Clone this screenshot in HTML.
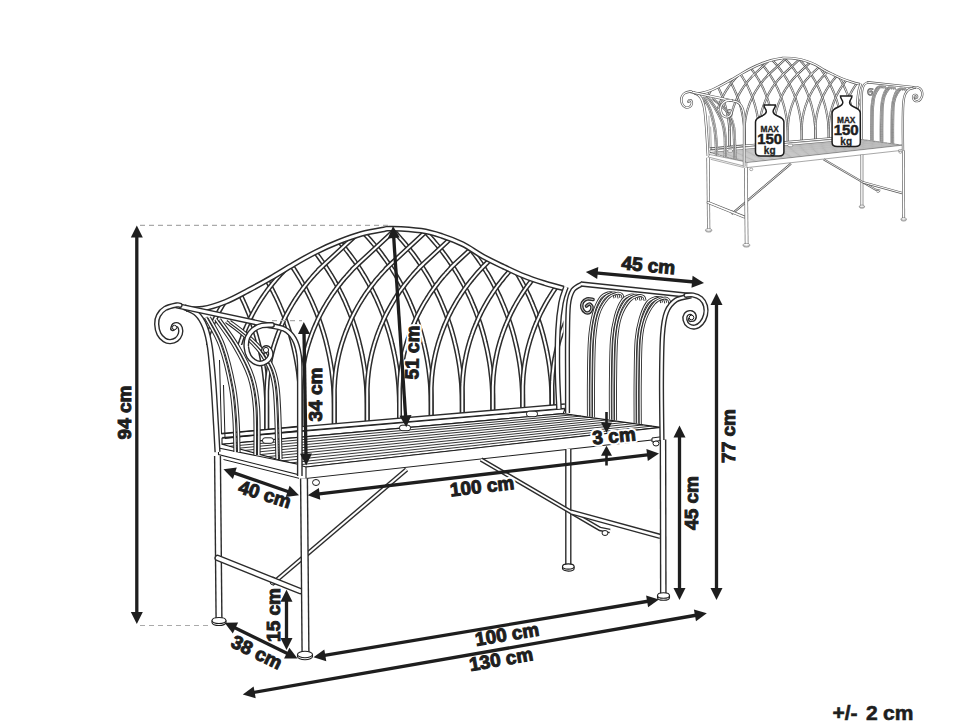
<!DOCTYPE html><html><head><meta charset="utf-8"><style>html,body{margin:0;padding:0;background:#fff;width:970px;height:728px;overflow:hidden}svg{display:block}</style></head><body><svg width="970" height="728" viewBox="0 0 970 728" style="font-family:'Liberation Sans',sans-serif;font-weight:700" fill="#1e1e1e">
<rect width="970" height="728" fill="#fff"/>
<g id="bench">
<clipPath id="latclip"><path d="M186 308.8 C188.8 308.8 196.1 309.8 202.7 308.7 C209.3 307.6 217.8 304.9 225.4 301.9 C233 298.9 240.4 294.6 248 290.6 C255.6 286.6 263.1 282.5 270.7 278.1 C278.3 273.8 285.8 268.9 293.4 264.5 C300.9 260.1 308.4 255.8 316 252 C323.6 248.2 331.1 244.8 338.7 241.8 C346.3 238.8 353.8 236 361.4 233.9 C368.9 231.8 378.8 230.2 384 229.3 C389.2 228.4 386.2 228.4 392.4 228.6 C398.6 228.8 412.9 229.5 421.2 230.7 C429.4 231.9 435 233.7 441.9 235.9 C448.8 238.1 455.6 240.7 462.5 244.1 C469.4 247.5 476.1 252.7 483 256.5 C489.9 260.3 496.8 263.5 503.7 266.8 C510.6 270.1 517.4 273.4 524.3 276.1 C531.2 278.9 538.5 281.2 545 283.3 C551.5 285.4 560.4 287.6 563.5 288.4 L563.5 406 L200 437.1 Z"/></clipPath>
<g clip-path="url(#latclip)">
<path d="M266.7 432.4 L266.7 408.9 L266.7 408.9 C266.7 408 266.7 405.3 266.6 403.6 C266.6 401.8 266.6 400 266.5 398.3 C266.4 396.5 266.3 394.8 266.2 393 C266.1 391.3 266 389.5 265.9 387.8 C265.7 386 265.6 384.3 265.4 382.5 C265.2 380.8 265 379 264.8 377.3 C264.6 375.6 264.4 373.8 264.2 372.1 C263.9 370.4 263.7 368.6 263.4 366.9 C263.1 365.2 262.8 363.5 262.5 361.8 C262.2 360.1 261.9 358.4 261.5 356.6 C261.2 354.9 260.8 353.2 260.4 351.6 C260 349.9 259.7 348.2 259.2 346.5 C258.8 344.8 258.4 343.1 258 341.5 C257.5 339.8 257 338.1 256.6 336.5 C256.1 334.8 255.6 333.2 255.1 331.5 C254.6 329.9 254 328.2 253.5 326.6 C252.9 325 252.4 323.3 251.8 321.7 C251.2 320.1 250.6 318.5 250 316.9 C249.4 315.3 248.8 313.7 248.1 312.1 C247.5 310.5 246.8 308.9 246.1 307.4 C245.5 305.8 244.8 304.2 244.1 302.7 C243.4 301.1 242.6 299.6 241.9 298 C241.2 296.5 240.4 294.9 239.6 293.4 C238.9 291.9 238.1 290.4 237.3 288.9 C236.5 287.4 235.7 285.9 234.8 284.4 C234 282.9 233.1 281.4 232.3 280 C231.4 278.5 230.5 277 229.6 275.6 C228.7 274.2 227.8 272.7 226.9 271.3 C226 269.9 225.1 268.5 224.1 267 C223.1 265.6 222.2 264.2 221.2 262.9 C220.2 261.5 219.2 260.1 218.2 258.8 C217.2 257.4 216.2 256 215.1 254.7 C214.1 253.4 213 252 212 250.7 C210.9 249.4 209.8 248.1 208.7 246.8 C207.6 245.5 206.5 244.2 205.4 243 C204.3 241.7 203.2 240.5 202 239.2 C200.9 238 199.7 236.7 198.5 235.5 C197.4 234.3 196.2 233.1 195 231.9 C193.8 230.7 192.6 229.5 191.3 228.4 C190.1 227.2 202.4 238.4 187.6 224.9 C172.9 211.4 116.9 160.4 102.8 147.5" stroke="#2c2c2c" stroke-width="5" fill="none" stroke-linecap="butt" />
<path d="M266.7 432.4 L266.7 408.9 L266.7 408.9 C266.7 408 266.7 405.3 266.6 403.6 C266.6 401.8 266.6 400 266.5 398.3 C266.4 396.5 266.3 394.8 266.2 393 C266.1 391.3 266 389.5 265.9 387.8 C265.7 386 265.6 384.3 265.4 382.5 C265.2 380.8 265 379 264.8 377.3 C264.6 375.6 264.4 373.8 264.2 372.1 C263.9 370.4 263.7 368.6 263.4 366.9 C263.1 365.2 262.8 363.5 262.5 361.8 C262.2 360.1 261.9 358.4 261.5 356.6 C261.2 354.9 260.8 353.2 260.4 351.6 C260 349.9 259.7 348.2 259.2 346.5 C258.8 344.8 258.4 343.1 258 341.5 C257.5 339.8 257 338.1 256.6 336.5 C256.1 334.8 255.6 333.2 255.1 331.5 C254.6 329.9 254 328.2 253.5 326.6 C252.9 325 252.4 323.3 251.8 321.7 C251.2 320.1 250.6 318.5 250 316.9 C249.4 315.3 248.8 313.7 248.1 312.1 C247.5 310.5 246.8 308.9 246.1 307.4 C245.5 305.8 244.8 304.2 244.1 302.7 C243.4 301.1 242.6 299.6 241.9 298 C241.2 296.5 240.4 294.9 239.6 293.4 C238.9 291.9 238.1 290.4 237.3 288.9 C236.5 287.4 235.7 285.9 234.8 284.4 C234 282.9 233.1 281.4 232.3 280 C231.4 278.5 230.5 277 229.6 275.6 C228.7 274.2 227.8 272.7 226.9 271.3 C226 269.9 225.1 268.5 224.1 267 C223.1 265.6 222.2 264.2 221.2 262.9 C220.2 261.5 219.2 260.1 218.2 258.8 C217.2 257.4 216.2 256 215.1 254.7 C214.1 253.4 213 252 212 250.7 C210.9 249.4 209.8 248.1 208.7 246.8 C207.6 245.5 206.5 244.2 205.4 243 C204.3 241.7 203.2 240.5 202 239.2 C200.9 238 199.7 236.7 198.5 235.5 C197.4 234.3 196.2 233.1 195 231.9 C193.8 230.7 192.6 229.5 191.3 228.4 C190.1 227.2 202.4 238.4 187.6 224.9 C172.9 211.4 116.9 160.4 102.8 147.5" stroke="#fff" stroke-width="2" fill="none" stroke-linecap="butt" />
<path d="M300.8 429.4 L300.8 408.2 L300.8 408.2 C300.8 407.3 300.8 404.7 300.7 402.9 C300.7 401.1 300.7 399.4 300.6 397.6 C300.5 395.8 300.4 394.1 300.3 392.3 C300.2 390.6 300.1 388.8 300 387.1 C299.8 385.3 299.7 383.6 299.5 381.8 C299.3 380.1 299.1 378.4 298.9 376.6 C298.7 374.9 298.5 373.1 298.3 371.4 C298 369.7 297.8 368 297.5 366.2 C297.2 364.5 296.9 362.8 296.6 361.1 C296.3 359.4 296 357.7 295.6 356 C295.3 354.3 294.9 352.6 294.5 350.9 C294.1 349.2 293.8 347.5 293.3 345.8 C292.9 344.1 292.5 342.5 292.1 340.8 C291.6 339.1 291.1 337.4 290.7 335.8 C290.2 334.1 289.7 332.5 289.2 330.8 C288.7 329.2 288.1 327.5 287.6 325.9 C287 324.3 286.5 322.7 285.9 321 C285.3 319.4 284.7 317.8 284.1 316.2 C283.5 314.6 282.9 313 282.2 311.4 C281.6 309.8 280.9 308.2 280.2 306.7 C279.6 305.1 278.9 303.5 278.2 302 C277.5 300.4 276.7 298.9 276 297.3 C275.3 295.8 274.5 294.3 273.7 292.7 C273 291.2 272.2 289.7 271.4 288.2 C270.6 286.7 269.8 285.2 268.9 283.7 C268.1 282.2 267.2 280.8 266.4 279.3 C265.5 277.8 264.6 276.4 263.7 274.9 C262.8 273.5 261.9 272 261 270.6 C260.1 269.2 259.2 267.8 258.2 266.4 C257.2 265 256.3 263.6 255.3 262.2 C254.3 260.8 253.3 259.4 252.3 258.1 C251.3 256.7 250.3 255.4 249.2 254 C248.2 252.7 247.1 251.4 246.1 250 C245 248.7 243.9 247.4 242.8 246.1 C241.7 244.8 240.6 243.6 239.5 242.3 C238.4 241 237.3 239.8 236.1 238.5 C235 237.3 233.8 236.1 232.6 234.8 C231.5 233.6 230.3 232.4 229.1 231.2 C227.9 230 226.7 228.8 225.4 227.7 C224.2 226.5 236.5 237.7 221.7 224.2 C207 210.8 151 159.7 136.9 146.8" stroke="#2c2c2c" stroke-width="5" fill="none" stroke-linecap="butt" />
<path d="M300.8 429.4 L300.8 408.2 L300.8 408.2 C300.8 407.3 300.8 404.7 300.7 402.9 C300.7 401.1 300.7 399.4 300.6 397.6 C300.5 395.8 300.4 394.1 300.3 392.3 C300.2 390.6 300.1 388.8 300 387.1 C299.8 385.3 299.7 383.6 299.5 381.8 C299.3 380.1 299.1 378.4 298.9 376.6 C298.7 374.9 298.5 373.1 298.3 371.4 C298 369.7 297.8 368 297.5 366.2 C297.2 364.5 296.9 362.8 296.6 361.1 C296.3 359.4 296 357.7 295.6 356 C295.3 354.3 294.9 352.6 294.5 350.9 C294.1 349.2 293.8 347.5 293.3 345.8 C292.9 344.1 292.5 342.5 292.1 340.8 C291.6 339.1 291.1 337.4 290.7 335.8 C290.2 334.1 289.7 332.5 289.2 330.8 C288.7 329.2 288.1 327.5 287.6 325.9 C287 324.3 286.5 322.7 285.9 321 C285.3 319.4 284.7 317.8 284.1 316.2 C283.5 314.6 282.9 313 282.2 311.4 C281.6 309.8 280.9 308.2 280.2 306.7 C279.6 305.1 278.9 303.5 278.2 302 C277.5 300.4 276.7 298.9 276 297.3 C275.3 295.8 274.5 294.3 273.7 292.7 C273 291.2 272.2 289.7 271.4 288.2 C270.6 286.7 269.8 285.2 268.9 283.7 C268.1 282.2 267.2 280.8 266.4 279.3 C265.5 277.8 264.6 276.4 263.7 274.9 C262.8 273.5 261.9 272 261 270.6 C260.1 269.2 259.2 267.8 258.2 266.4 C257.2 265 256.3 263.6 255.3 262.2 C254.3 260.8 253.3 259.4 252.3 258.1 C251.3 256.7 250.3 255.4 249.2 254 C248.2 252.7 247.1 251.4 246.1 250 C245 248.7 243.9 247.4 242.8 246.1 C241.7 244.8 240.6 243.6 239.5 242.3 C238.4 241 237.3 239.8 236.1 238.5 C235 237.3 233.8 236.1 232.6 234.8 C231.5 233.6 230.3 232.4 229.1 231.2 C227.9 230 226.7 228.8 225.4 227.7 C224.2 226.5 236.5 237.7 221.7 224.2 C207 210.8 151 159.7 136.9 146.8" stroke="#fff" stroke-width="2" fill="none" stroke-linecap="butt" />
<path d="M334.3 426.6 L334.3 407.5 L334.3 407.5 C334.3 406.6 334.3 404 334.2 402.2 C334.2 400.5 334.2 398.7 334.1 396.9 C334 395.2 333.9 393.4 333.8 391.7 C333.7 389.9 333.6 388.2 333.5 386.4 C333.3 384.7 333.2 382.9 333 381.2 C332.8 379.4 332.6 377.7 332.4 375.9 C332.2 374.2 332 372.5 331.8 370.7 C331.5 369 331.3 367.3 331 365.6 C330.7 363.8 330.4 362.1 330.1 360.4 C329.8 358.7 329.5 357 329.1 355.3 C328.8 353.6 328.4 351.9 328 350.2 C327.6 348.5 327.3 346.8 326.8 345.1 C326.4 343.5 326 341.8 325.6 340.1 C325.1 338.4 324.6 336.8 324.2 335.1 C323.7 333.5 323.2 331.8 322.7 330.2 C322.2 328.5 321.6 326.9 321.1 325.2 C320.5 323.6 320 322 319.4 320.4 C318.8 318.7 318.2 317.1 317.6 315.5 C317 313.9 316.4 312.3 315.7 310.7 C315.1 309.2 314.4 307.6 313.7 306 C313.1 304.4 312.4 302.9 311.7 301.3 C311 299.7 310.2 298.2 309.5 296.7 C308.8 295.1 308 293.6 307.2 292.1 C306.5 290.5 305.7 289 304.9 287.5 C304.1 286 303.3 284.5 302.4 283 C301.6 281.6 300.7 280.1 299.9 278.6 C299 277.2 298.1 275.7 297.2 274.2 C296.3 272.8 295.4 271.4 294.5 269.9 C293.6 268.5 292.7 267.1 291.7 265.7 C290.7 264.3 289.8 262.9 288.8 261.5 C287.8 260.1 286.8 258.8 285.8 257.4 C284.8 256 283.8 254.7 282.7 253.3 C281.7 252 280.6 250.7 279.6 249.4 C278.5 248.1 277.4 246.8 276.3 245.5 C275.2 244.2 274.1 242.9 273 241.6 C271.9 240.4 270.8 239.1 269.6 237.9 C268.5 236.6 267.3 235.4 266.1 234.2 C265 232.9 263.8 231.7 262.6 230.6 C261.4 229.4 260.2 228.2 258.9 227 C257.7 225.8 270 237 255.2 223.6 C240.5 210.1 184.5 159.1 170.4 146.2" stroke="#2c2c2c" stroke-width="5" fill="none" stroke-linecap="butt" />
<path d="M334.3 426.6 L334.3 407.5 L334.3 407.5 C334.3 406.6 334.3 404 334.2 402.2 C334.2 400.5 334.2 398.7 334.1 396.9 C334 395.2 333.9 393.4 333.8 391.7 C333.7 389.9 333.6 388.2 333.5 386.4 C333.3 384.7 333.2 382.9 333 381.2 C332.8 379.4 332.6 377.7 332.4 375.9 C332.2 374.2 332 372.5 331.8 370.7 C331.5 369 331.3 367.3 331 365.6 C330.7 363.8 330.4 362.1 330.1 360.4 C329.8 358.7 329.5 357 329.1 355.3 C328.8 353.6 328.4 351.9 328 350.2 C327.6 348.5 327.3 346.8 326.8 345.1 C326.4 343.5 326 341.8 325.6 340.1 C325.1 338.4 324.6 336.8 324.2 335.1 C323.7 333.5 323.2 331.8 322.7 330.2 C322.2 328.5 321.6 326.9 321.1 325.2 C320.5 323.6 320 322 319.4 320.4 C318.8 318.7 318.2 317.1 317.6 315.5 C317 313.9 316.4 312.3 315.7 310.7 C315.1 309.2 314.4 307.6 313.7 306 C313.1 304.4 312.4 302.9 311.7 301.3 C311 299.7 310.2 298.2 309.5 296.7 C308.8 295.1 308 293.6 307.2 292.1 C306.5 290.5 305.7 289 304.9 287.5 C304.1 286 303.3 284.5 302.4 283 C301.6 281.6 300.7 280.1 299.9 278.6 C299 277.2 298.1 275.7 297.2 274.2 C296.3 272.8 295.4 271.4 294.5 269.9 C293.6 268.5 292.7 267.1 291.7 265.7 C290.7 264.3 289.8 262.9 288.8 261.5 C287.8 260.1 286.8 258.8 285.8 257.4 C284.8 256 283.8 254.7 282.7 253.3 C281.7 252 280.6 250.7 279.6 249.4 C278.5 248.1 277.4 246.8 276.3 245.5 C275.2 244.2 274.1 242.9 273 241.6 C271.9 240.4 270.8 239.1 269.6 237.9 C268.5 236.6 267.3 235.4 266.1 234.2 C265 232.9 263.8 231.7 262.6 230.6 C261.4 229.4 260.2 228.2 258.9 227 C257.7 225.8 270 237 255.2 223.6 C240.5 210.1 184.5 159.1 170.4 146.2" stroke="#fff" stroke-width="2" fill="none" stroke-linecap="butt" />
<path d="M367.2 423.8 L367.2 406.9 L367.2 406.9 C367.2 406 367.2 403.3 367.1 401.6 C367.1 399.8 367.1 398 367 396.3 C366.9 394.5 366.8 392.8 366.7 391 C366.6 389.2 366.5 387.5 366.4 385.7 C366.2 384 366.1 382.2 365.9 380.5 C365.7 378.8 365.5 377 365.3 375.3 C365.1 373.5 364.9 371.8 364.7 370.1 C364.4 368.4 364.2 366.6 363.9 364.9 C363.6 363.2 363.3 361.5 363 359.8 C362.7 358 362.4 356.3 362 354.6 C361.7 352.9 361.3 351.2 360.9 349.5 C360.5 347.9 360.2 346.2 359.7 344.5 C359.3 342.8 358.9 341.1 358.5 339.5 C358 337.8 357.5 336.1 357.1 334.5 C356.6 332.8 356.1 331.1 355.6 329.5 C355.1 327.9 354.5 326.2 354 324.6 C353.4 323 352.9 321.3 352.3 319.7 C351.7 318.1 351.1 316.5 350.5 314.9 C349.9 313.3 349.3 311.7 348.6 310.1 C348 308.5 347.3 306.9 346.6 305.3 C346 303.8 345.3 302.2 344.6 300.6 C343.9 299.1 343.1 297.5 342.4 296 C341.7 294.5 340.9 292.9 340.1 291.4 C339.4 289.9 338.6 288.4 337.8 286.9 C337 285.4 336.2 283.9 335.3 282.4 C334.5 280.9 333.6 279.4 332.8 278 C331.9 276.5 331 275 330.1 273.6 C329.2 272.1 328.3 270.7 327.4 269.3 C326.5 267.9 325.6 266.4 324.6 265 C323.6 263.6 322.7 262.2 321.7 260.9 C320.7 259.5 319.7 258.1 318.7 256.7 C317.7 255.4 316.7 254 315.6 252.7 C314.6 251.4 313.5 250 312.5 248.7 C311.4 247.4 310.3 246.1 309.2 244.8 C308.1 243.5 307 242.2 305.9 241 C304.8 239.7 303.7 238.4 302.5 237.2 C301.4 236 300.2 234.7 299 233.5 C297.9 232.3 296.7 231.1 295.5 229.9 C294.3 228.7 293.1 227.5 291.8 226.4 C290.6 225.2 302.9 236.4 288.1 222.9 C273.4 209.4 217.4 158.4 203.3 145.5" stroke="#2c2c2c" stroke-width="5" fill="none" stroke-linecap="butt" />
<path d="M367.2 423.8 L367.2 406.9 L367.2 406.9 C367.2 406 367.2 403.3 367.1 401.6 C367.1 399.8 367.1 398 367 396.3 C366.9 394.5 366.8 392.8 366.7 391 C366.6 389.2 366.5 387.5 366.4 385.7 C366.2 384 366.1 382.2 365.9 380.5 C365.7 378.8 365.5 377 365.3 375.3 C365.1 373.5 364.9 371.8 364.7 370.1 C364.4 368.4 364.2 366.6 363.9 364.9 C363.6 363.2 363.3 361.5 363 359.8 C362.7 358 362.4 356.3 362 354.6 C361.7 352.9 361.3 351.2 360.9 349.5 C360.5 347.9 360.2 346.2 359.7 344.5 C359.3 342.8 358.9 341.1 358.5 339.5 C358 337.8 357.5 336.1 357.1 334.5 C356.6 332.8 356.1 331.1 355.6 329.5 C355.1 327.9 354.5 326.2 354 324.6 C353.4 323 352.9 321.3 352.3 319.7 C351.7 318.1 351.1 316.5 350.5 314.9 C349.9 313.3 349.3 311.7 348.6 310.1 C348 308.5 347.3 306.9 346.6 305.3 C346 303.8 345.3 302.2 344.6 300.6 C343.9 299.1 343.1 297.5 342.4 296 C341.7 294.5 340.9 292.9 340.1 291.4 C339.4 289.9 338.6 288.4 337.8 286.9 C337 285.4 336.2 283.9 335.3 282.4 C334.5 280.9 333.6 279.4 332.8 278 C331.9 276.5 331 275 330.1 273.6 C329.2 272.1 328.3 270.7 327.4 269.3 C326.5 267.9 325.6 266.4 324.6 265 C323.6 263.6 322.7 262.2 321.7 260.9 C320.7 259.5 319.7 258.1 318.7 256.7 C317.7 255.4 316.7 254 315.6 252.7 C314.6 251.4 313.5 250 312.5 248.7 C311.4 247.4 310.3 246.1 309.2 244.8 C308.1 243.5 307 242.2 305.9 241 C304.8 239.7 303.7 238.4 302.5 237.2 C301.4 236 300.2 234.7 299 233.5 C297.9 232.3 296.7 231.1 295.5 229.9 C294.3 228.7 293.1 227.5 291.8 226.4 C290.6 225.2 302.9 236.4 288.1 222.9 C273.4 209.4 217.4 158.4 203.3 145.5" stroke="#fff" stroke-width="2" fill="none" stroke-linecap="butt" />
<path d="M399.5 421 L399.5 406.2 L399.5 406.2 C399.5 405.3 399.5 402.7 399.4 400.9 C399.4 399.1 399.4 397.4 399.3 395.6 C399.2 393.9 399.1 392.1 399 390.4 C398.9 388.6 398.8 386.8 398.7 385.1 C398.5 383.3 398.4 381.6 398.2 379.9 C398 378.1 397.8 376.4 397.6 374.6 C397.4 372.9 397.2 371.2 397 369.4 C396.7 367.7 396.5 366 396.2 364.3 C395.9 362.5 395.6 360.8 395.3 359.1 C395 357.4 394.7 355.7 394.3 354 C394 352.3 393.6 350.6 393.2 348.9 C392.8 347.2 392.5 345.5 392 343.8 C391.6 342.2 391.2 340.5 390.8 338.8 C390.3 337.1 389.8 335.5 389.4 333.8 C388.9 332.2 388.4 330.5 387.9 328.9 C387.4 327.2 386.8 325.6 386.3 323.9 C385.7 322.3 385.2 320.7 384.6 319.1 C384 317.4 383.4 315.8 382.8 314.2 C382.2 312.6 381.6 311 380.9 309.4 C380.3 307.8 379.6 306.3 378.9 304.7 C378.3 303.1 377.6 301.6 376.9 300 C376.2 298.4 375.4 296.9 374.7 295.4 C374 293.8 373.2 292.3 372.4 290.8 C371.7 289.2 370.9 287.7 370.1 286.2 C369.3 284.7 368.5 283.2 367.6 281.7 C366.8 280.3 365.9 278.8 365.1 277.3 C364.2 275.8 363.3 274.4 362.4 272.9 C361.5 271.5 360.6 270.1 359.7 268.6 C358.8 267.2 357.9 265.8 356.9 264.4 C355.9 263 355 261.6 354 260.2 C353 258.8 352 257.5 351 256.1 C350 254.7 349 253.4 347.9 252 C346.9 250.7 345.8 249.4 344.8 248.1 C343.7 246.8 342.6 245.4 341.5 244.2 C340.4 242.9 339.3 241.6 338.2 240.3 C337.1 239 336 237.8 334.8 236.6 C333.7 235.3 332.5 234.1 331.3 232.9 C330.2 231.6 329 230.4 327.8 229.2 C326.6 228.1 325.4 226.9 324.1 225.7 C322.9 224.5 335.2 235.7 320.4 222.3 C305.7 208.8 249.7 157.8 235.6 144.9" stroke="#2c2c2c" stroke-width="5" fill="none" stroke-linecap="butt" />
<path d="M399.5 421 L399.5 406.2 L399.5 406.2 C399.5 405.3 399.5 402.7 399.4 400.9 C399.4 399.1 399.4 397.4 399.3 395.6 C399.2 393.9 399.1 392.1 399 390.4 C398.9 388.6 398.8 386.8 398.7 385.1 C398.5 383.3 398.4 381.6 398.2 379.9 C398 378.1 397.8 376.4 397.6 374.6 C397.4 372.9 397.2 371.2 397 369.4 C396.7 367.7 396.5 366 396.2 364.3 C395.9 362.5 395.6 360.8 395.3 359.1 C395 357.4 394.7 355.7 394.3 354 C394 352.3 393.6 350.6 393.2 348.9 C392.8 347.2 392.5 345.5 392 343.8 C391.6 342.2 391.2 340.5 390.8 338.8 C390.3 337.1 389.8 335.5 389.4 333.8 C388.9 332.2 388.4 330.5 387.9 328.9 C387.4 327.2 386.8 325.6 386.3 323.9 C385.7 322.3 385.2 320.7 384.6 319.1 C384 317.4 383.4 315.8 382.8 314.2 C382.2 312.6 381.6 311 380.9 309.4 C380.3 307.8 379.6 306.3 378.9 304.7 C378.3 303.1 377.6 301.6 376.9 300 C376.2 298.4 375.4 296.9 374.7 295.4 C374 293.8 373.2 292.3 372.4 290.8 C371.7 289.2 370.9 287.7 370.1 286.2 C369.3 284.7 368.5 283.2 367.6 281.7 C366.8 280.3 365.9 278.8 365.1 277.3 C364.2 275.8 363.3 274.4 362.4 272.9 C361.5 271.5 360.6 270.1 359.7 268.6 C358.8 267.2 357.9 265.8 356.9 264.4 C355.9 263 355 261.6 354 260.2 C353 258.8 352 257.5 351 256.1 C350 254.7 349 253.4 347.9 252 C346.9 250.7 345.8 249.4 344.8 248.1 C343.7 246.8 342.6 245.4 341.5 244.2 C340.4 242.9 339.3 241.6 338.2 240.3 C337.1 239 336 237.8 334.8 236.6 C333.7 235.3 332.5 234.1 331.3 232.9 C330.2 231.6 329 230.4 327.8 229.2 C326.6 228.1 325.4 226.9 324.1 225.7 C322.9 224.5 335.2 235.7 320.4 222.3 C305.7 208.8 249.7 157.8 235.6 144.9" stroke="#fff" stroke-width="2" fill="none" stroke-linecap="butt" />
<path d="M431.2 418.3 L431.2 405.6 L431.2 405.6 C431.2 404.7 431.2 402 431.1 400.3 C431.1 398.5 431.1 396.8 431 395 C430.9 393.2 430.8 391.5 430.7 389.7 C430.6 388 430.5 386.2 430.4 384.5 C430.2 382.7 430.1 381 429.9 379.2 C429.7 377.5 429.5 375.7 429.3 374 C429.1 372.3 428.9 370.5 428.7 368.8 C428.4 367.1 428.2 365.4 427.9 363.6 C427.6 361.9 427.3 360.2 427 358.5 C426.7 356.8 426.4 355.1 426 353.4 C425.7 351.7 425.3 350 424.9 348.3 C424.5 346.6 424.2 344.9 423.7 343.2 C423.3 341.5 422.9 339.8 422.5 338.2 C422 336.5 421.5 334.8 421.1 333.2 C420.6 331.5 420.1 329.9 419.6 328.2 C419.1 326.6 418.5 324.9 418 323.3 C417.4 321.7 416.9 320 416.3 318.4 C415.7 316.8 415.1 315.2 414.5 313.6 C413.9 312 413.3 310.4 412.6 308.8 C412 307.2 411.3 305.6 410.6 304.1 C410 302.5 409.3 300.9 408.6 299.4 C407.9 297.8 407.1 296.3 406.4 294.7 C405.7 293.2 404.9 291.6 404.1 290.1 C403.4 288.6 402.6 287.1 401.8 285.6 C401 284.1 400.2 282.6 399.3 281.1 C398.5 279.6 397.6 278.1 396.8 276.7 C395.9 275.2 395 273.8 394.1 272.3 C393.2 270.9 392.3 269.4 391.4 268 C390.5 266.6 389.6 265.2 388.6 263.8 C387.6 262.4 386.7 261 385.7 259.6 C384.7 258.2 383.7 256.8 382.7 255.5 C381.7 254.1 380.7 252.7 379.6 251.4 C378.6 250.1 377.5 248.7 376.5 247.4 C375.4 246.1 374.3 244.8 373.2 243.5 C372.1 242.2 371 241 369.9 239.7 C368.8 238.4 367.7 237.2 366.5 235.9 C365.4 234.7 364.2 233.4 363 232.2 C361.9 231 360.7 229.8 359.5 228.6 C358.3 227.4 357.1 226.2 355.8 225.1 C354.6 223.9 366.9 235.1 352.1 221.6 C337.4 208.1 281.4 157.1 267.3 144.2" stroke="#2c2c2c" stroke-width="5" fill="none" stroke-linecap="butt" />
<path d="M431.2 418.3 L431.2 405.6 L431.2 405.6 C431.2 404.7 431.2 402 431.1 400.3 C431.1 398.5 431.1 396.8 431 395 C430.9 393.2 430.8 391.5 430.7 389.7 C430.6 388 430.5 386.2 430.4 384.5 C430.2 382.7 430.1 381 429.9 379.2 C429.7 377.5 429.5 375.7 429.3 374 C429.1 372.3 428.9 370.5 428.7 368.8 C428.4 367.1 428.2 365.4 427.9 363.6 C427.6 361.9 427.3 360.2 427 358.5 C426.7 356.8 426.4 355.1 426 353.4 C425.7 351.7 425.3 350 424.9 348.3 C424.5 346.6 424.2 344.9 423.7 343.2 C423.3 341.5 422.9 339.8 422.5 338.2 C422 336.5 421.5 334.8 421.1 333.2 C420.6 331.5 420.1 329.9 419.6 328.2 C419.1 326.6 418.5 324.9 418 323.3 C417.4 321.7 416.9 320 416.3 318.4 C415.7 316.8 415.1 315.2 414.5 313.6 C413.9 312 413.3 310.4 412.6 308.8 C412 307.2 411.3 305.6 410.6 304.1 C410 302.5 409.3 300.9 408.6 299.4 C407.9 297.8 407.1 296.3 406.4 294.7 C405.7 293.2 404.9 291.6 404.1 290.1 C403.4 288.6 402.6 287.1 401.8 285.6 C401 284.1 400.2 282.6 399.3 281.1 C398.5 279.6 397.6 278.1 396.8 276.7 C395.9 275.2 395 273.8 394.1 272.3 C393.2 270.9 392.3 269.4 391.4 268 C390.5 266.6 389.6 265.2 388.6 263.8 C387.6 262.4 386.7 261 385.7 259.6 C384.7 258.2 383.7 256.8 382.7 255.5 C381.7 254.1 380.7 252.7 379.6 251.4 C378.6 250.1 377.5 248.7 376.5 247.4 C375.4 246.1 374.3 244.8 373.2 243.5 C372.1 242.2 371 241 369.9 239.7 C368.8 238.4 367.7 237.2 366.5 235.9 C365.4 234.7 364.2 233.4 363 232.2 C361.9 231 360.7 229.8 359.5 228.6 C358.3 227.4 357.1 226.2 355.8 225.1 C354.6 223.9 366.9 235.1 352.1 221.6 C337.4 208.1 281.4 157.1 267.3 144.2" stroke="#fff" stroke-width="2" fill="none" stroke-linecap="butt" />
<path d="M462.3 415.6 L462.3 405 L462.3 405 C462.3 404.1 462.3 401.4 462.2 399.7 C462.2 397.9 462.2 396.1 462.1 394.4 C462 392.6 461.9 390.9 461.8 389.1 C461.7 387.3 461.6 385.6 461.5 383.8 C461.3 382.1 461.2 380.3 461 378.6 C460.8 376.9 460.6 375.1 460.4 373.4 C460.2 371.6 460 369.9 459.8 368.2 C459.5 366.5 459.3 364.7 459 363 C458.7 361.3 458.4 359.6 458.1 357.9 C457.8 356.1 457.5 354.4 457.1 352.7 C456.8 351 456.4 349.3 456 347.6 C455.6 345.9 455.3 344.3 454.8 342.6 C454.4 340.9 454 339.2 453.6 337.6 C453.1 335.9 452.6 334.2 452.2 332.6 C451.7 330.9 451.2 329.2 450.7 327.6 C450.2 326 449.6 324.3 449.1 322.7 C448.5 321 448 319.4 447.4 317.8 C446.8 316.2 446.2 314.6 445.6 313 C445 311.4 444.4 309.8 443.7 308.2 C443.1 306.6 442.4 305 441.7 303.4 C441.1 301.9 440.4 300.3 439.7 298.7 C439 297.2 438.2 295.6 437.5 294.1 C436.8 292.6 436 291 435.2 289.5 C434.5 288 433.7 286.5 432.9 285 C432.1 283.5 431.3 282 430.4 280.5 C429.6 279 428.7 277.5 427.9 276.1 C427 274.6 426.1 273.1 425.2 271.7 C424.3 270.2 423.4 268.8 422.5 267.4 C421.6 266 420.7 264.5 419.7 263.1 C418.7 261.7 417.8 260.3 416.8 259 C415.8 257.6 414.8 256.2 413.8 254.8 C412.8 253.5 411.8 252.1 410.7 250.8 C409.7 249.5 408.6 248.1 407.6 246.8 C406.5 245.5 405.4 244.2 404.3 242.9 C403.2 241.6 402.1 240.3 401 239.1 C399.9 237.8 398.8 236.5 397.6 235.3 C396.5 234.1 395.3 232.8 394.1 231.6 C393 230.4 391.8 229.2 390.6 228 C389.4 226.8 388.2 225.6 386.9 224.5 C385.7 223.3 398 234.5 383.2 221 C368.5 207.5 312.5 156.5 298.4 143.6" stroke="#2c2c2c" stroke-width="5" fill="none" stroke-linecap="butt" />
<path d="M462.3 415.6 L462.3 405 L462.3 405 C462.3 404.1 462.3 401.4 462.2 399.7 C462.2 397.9 462.2 396.1 462.1 394.4 C462 392.6 461.9 390.9 461.8 389.1 C461.7 387.3 461.6 385.6 461.5 383.8 C461.3 382.1 461.2 380.3 461 378.6 C460.8 376.9 460.6 375.1 460.4 373.4 C460.2 371.6 460 369.9 459.8 368.2 C459.5 366.5 459.3 364.7 459 363 C458.7 361.3 458.4 359.6 458.1 357.9 C457.8 356.1 457.5 354.4 457.1 352.7 C456.8 351 456.4 349.3 456 347.6 C455.6 345.9 455.3 344.3 454.8 342.6 C454.4 340.9 454 339.2 453.6 337.6 C453.1 335.9 452.6 334.2 452.2 332.6 C451.7 330.9 451.2 329.2 450.7 327.6 C450.2 326 449.6 324.3 449.1 322.7 C448.5 321 448 319.4 447.4 317.8 C446.8 316.2 446.2 314.6 445.6 313 C445 311.4 444.4 309.8 443.7 308.2 C443.1 306.6 442.4 305 441.7 303.4 C441.1 301.9 440.4 300.3 439.7 298.7 C439 297.2 438.2 295.6 437.5 294.1 C436.8 292.6 436 291 435.2 289.5 C434.5 288 433.7 286.5 432.9 285 C432.1 283.5 431.3 282 430.4 280.5 C429.6 279 428.7 277.5 427.9 276.1 C427 274.6 426.1 273.1 425.2 271.7 C424.3 270.2 423.4 268.8 422.5 267.4 C421.6 266 420.7 264.5 419.7 263.1 C418.7 261.7 417.8 260.3 416.8 259 C415.8 257.6 414.8 256.2 413.8 254.8 C412.8 253.5 411.8 252.1 410.7 250.8 C409.7 249.5 408.6 248.1 407.6 246.8 C406.5 245.5 405.4 244.2 404.3 242.9 C403.2 241.6 402.1 240.3 401 239.1 C399.9 237.8 398.8 236.5 397.6 235.3 C396.5 234.1 395.3 232.8 394.1 231.6 C393 230.4 391.8 229.2 390.6 228 C389.4 226.8 388.2 225.6 386.9 224.5 C385.7 223.3 398 234.5 383.2 221 C368.5 207.5 312.5 156.5 298.4 143.6" stroke="#fff" stroke-width="2" fill="none" stroke-linecap="butt" />
<path d="M492.8 413 L492.8 404.3 L492.8 404.3 C492.8 403.5 492.8 400.8 492.7 399 C492.7 397.3 492.7 395.5 492.6 393.8 C492.5 392 492.4 390.2 492.3 388.5 C492.2 386.7 492.1 385 492 383.2 C491.8 381.5 491.7 379.7 491.5 378 C491.3 376.3 491.1 374.5 490.9 372.8 C490.7 371 490.5 369.3 490.3 367.6 C490 365.8 489.8 364.1 489.5 362.4 C489.2 360.7 488.9 359 488.6 357.2 C488.3 355.5 488 353.8 487.6 352.1 C487.3 350.4 486.9 348.7 486.5 347 C486.1 345.3 485.8 343.7 485.3 342 C484.9 340.3 484.5 338.6 484.1 336.9 C483.6 335.3 483.1 333.6 482.7 331.9 C482.2 330.3 481.7 328.6 481.2 327 C480.7 325.3 480.1 323.7 479.6 322.1 C479 320.4 478.5 318.8 477.9 317.2 C477.3 315.6 476.7 314 476.1 312.4 C475.5 310.8 474.9 309.2 474.2 307.6 C473.6 306 472.9 304.4 472.2 302.8 C471.6 301.3 470.9 299.7 470.2 298.1 C469.5 296.6 468.7 295 468 293.5 C467.3 291.9 466.5 290.4 465.7 288.9 C465 287.4 464.2 285.9 463.4 284.4 C462.6 282.9 461.8 281.4 460.9 279.9 C460.1 278.4 459.2 276.9 458.4 275.4 C457.5 274 456.6 272.5 455.7 271.1 C454.8 269.6 453.9 268.2 453 266.8 C452.1 265.3 451.2 263.9 450.2 262.5 C449.2 261.1 448.3 259.7 447.3 258.3 C446.3 257 445.3 255.6 444.3 254.2 C443.3 252.9 442.3 251.5 441.2 250.2 C440.2 248.8 439.1 247.5 438.1 246.2 C437 244.9 435.9 243.6 434.8 242.3 C433.7 241 432.6 239.7 431.5 238.5 C430.4 237.2 429.3 235.9 428.1 234.7 C427 233.4 425.8 232.2 424.6 231 C423.5 229.8 422.3 228.6 421.1 227.4 C419.9 226.2 418.7 225 417.4 223.8 C416.2 222.7 428.5 233.9 413.7 220.4 C399 206.9 343 155.9 328.9 143" stroke="#2c2c2c" stroke-width="5" fill="none" stroke-linecap="butt" />
<path d="M492.8 413 L492.8 404.3 L492.8 404.3 C492.8 403.5 492.8 400.8 492.7 399 C492.7 397.3 492.7 395.5 492.6 393.8 C492.5 392 492.4 390.2 492.3 388.5 C492.2 386.7 492.1 385 492 383.2 C491.8 381.5 491.7 379.7 491.5 378 C491.3 376.3 491.1 374.5 490.9 372.8 C490.7 371 490.5 369.3 490.3 367.6 C490 365.8 489.8 364.1 489.5 362.4 C489.2 360.7 488.9 359 488.6 357.2 C488.3 355.5 488 353.8 487.6 352.1 C487.3 350.4 486.9 348.7 486.5 347 C486.1 345.3 485.8 343.7 485.3 342 C484.9 340.3 484.5 338.6 484.1 336.9 C483.6 335.3 483.1 333.6 482.7 331.9 C482.2 330.3 481.7 328.6 481.2 327 C480.7 325.3 480.1 323.7 479.6 322.1 C479 320.4 478.5 318.8 477.9 317.2 C477.3 315.6 476.7 314 476.1 312.4 C475.5 310.8 474.9 309.2 474.2 307.6 C473.6 306 472.9 304.4 472.2 302.8 C471.6 301.3 470.9 299.7 470.2 298.1 C469.5 296.6 468.7 295 468 293.5 C467.3 291.9 466.5 290.4 465.7 288.9 C465 287.4 464.2 285.9 463.4 284.4 C462.6 282.9 461.8 281.4 460.9 279.9 C460.1 278.4 459.2 276.9 458.4 275.4 C457.5 274 456.6 272.5 455.7 271.1 C454.8 269.6 453.9 268.2 453 266.8 C452.1 265.3 451.2 263.9 450.2 262.5 C449.2 261.1 448.3 259.7 447.3 258.3 C446.3 257 445.3 255.6 444.3 254.2 C443.3 252.9 442.3 251.5 441.2 250.2 C440.2 248.8 439.1 247.5 438.1 246.2 C437 244.9 435.9 243.6 434.8 242.3 C433.7 241 432.6 239.7 431.5 238.5 C430.4 237.2 429.3 235.9 428.1 234.7 C427 233.4 425.8 232.2 424.6 231 C423.5 229.8 422.3 228.6 421.1 227.4 C419.9 226.2 418.7 225 417.4 223.8 C416.2 222.7 428.5 233.9 413.7 220.4 C399 206.9 343 155.9 328.9 143" stroke="#fff" stroke-width="2" fill="none" stroke-linecap="butt" />
<path d="M522.7 410.5 L522.7 403.7 L522.7 403.7 C522.7 402.9 522.7 400.2 522.6 398.4 C522.6 396.7 522.6 394.9 522.5 393.2 C522.4 391.4 522.3 389.6 522.2 387.9 C522.1 386.1 522 384.4 521.9 382.6 C521.7 380.9 521.6 379.1 521.4 377.4 C521.2 375.7 521 373.9 520.8 372.2 C520.6 370.4 520.4 368.7 520.2 367 C519.9 365.2 519.7 363.5 519.4 361.8 C519.1 360.1 518.8 358.4 518.5 356.7 C518.2 354.9 517.9 353.2 517.5 351.5 C517.2 349.8 516.8 348.1 516.4 346.4 C516 344.7 515.7 343.1 515.2 341.4 C514.8 339.7 514.4 338 514 336.3 C513.5 334.7 513 333 512.6 331.3 C512.1 329.7 511.6 328 511.1 326.4 C510.6 324.7 510 323.1 509.5 321.5 C508.9 319.8 508.4 318.2 507.8 316.6 C507.2 315 506.6 313.4 506 311.8 C505.4 310.2 504.8 308.6 504.1 307 C503.5 305.4 502.8 303.8 502.1 302.2 C501.5 300.7 500.8 299.1 500.1 297.5 C499.4 296 498.6 294.4 497.9 292.9 C497.2 291.4 496.4 289.8 495.6 288.3 C494.9 286.8 494.1 285.3 493.3 283.8 C492.5 282.3 491.7 280.8 490.8 279.3 C490 277.8 489.1 276.3 488.3 274.8 C487.4 273.4 486.5 271.9 485.6 270.5 C484.7 269 483.8 267.6 482.9 266.2 C482 264.7 481.1 263.3 480.1 261.9 C479.1 260.5 478.2 259.1 477.2 257.7 C476.2 256.4 475.2 255 474.2 253.6 C473.2 252.3 472.2 250.9 471.1 249.6 C470.1 248.2 469 246.9 468 245.6 C466.9 244.3 465.8 243 464.7 241.7 C463.6 240.4 462.5 239.1 461.4 237.9 C460.3 236.6 459.2 235.3 458 234.1 C456.9 232.8 455.7 231.6 454.5 230.4 C453.4 229.2 452.2 228 451 226.8 C449.8 225.6 448.6 224.4 447.3 223.2 C446.1 222.1 458.4 233.3 443.6 219.8 C428.9 206.3 372.9 155.3 358.8 142.4" stroke="#2c2c2c" stroke-width="5" fill="none" stroke-linecap="butt" />
<path d="M522.7 410.5 L522.7 403.7 L522.7 403.7 C522.7 402.9 522.7 400.2 522.6 398.4 C522.6 396.7 522.6 394.9 522.5 393.2 C522.4 391.4 522.3 389.6 522.2 387.9 C522.1 386.1 522 384.4 521.9 382.6 C521.7 380.9 521.6 379.1 521.4 377.4 C521.2 375.7 521 373.9 520.8 372.2 C520.6 370.4 520.4 368.7 520.2 367 C519.9 365.2 519.7 363.5 519.4 361.8 C519.1 360.1 518.8 358.4 518.5 356.7 C518.2 354.9 517.9 353.2 517.5 351.5 C517.2 349.8 516.8 348.1 516.4 346.4 C516 344.7 515.7 343.1 515.2 341.4 C514.8 339.7 514.4 338 514 336.3 C513.5 334.7 513 333 512.6 331.3 C512.1 329.7 511.6 328 511.1 326.4 C510.6 324.7 510 323.1 509.5 321.5 C508.9 319.8 508.4 318.2 507.8 316.6 C507.2 315 506.6 313.4 506 311.8 C505.4 310.2 504.8 308.6 504.1 307 C503.5 305.4 502.8 303.8 502.1 302.2 C501.5 300.7 500.8 299.1 500.1 297.5 C499.4 296 498.6 294.4 497.9 292.9 C497.2 291.4 496.4 289.8 495.6 288.3 C494.9 286.8 494.1 285.3 493.3 283.8 C492.5 282.3 491.7 280.8 490.8 279.3 C490 277.8 489.1 276.3 488.3 274.8 C487.4 273.4 486.5 271.9 485.6 270.5 C484.7 269 483.8 267.6 482.9 266.2 C482 264.7 481.1 263.3 480.1 261.9 C479.1 260.5 478.2 259.1 477.2 257.7 C476.2 256.4 475.2 255 474.2 253.6 C473.2 252.3 472.2 250.9 471.1 249.6 C470.1 248.2 469 246.9 468 245.6 C466.9 244.3 465.8 243 464.7 241.7 C463.6 240.4 462.5 239.1 461.4 237.9 C460.3 236.6 459.2 235.3 458 234.1 C456.9 232.8 455.7 231.6 454.5 230.4 C453.4 229.2 452.2 228 451 226.8 C449.8 225.6 448.6 224.4 447.3 223.2 C446.1 222.1 458.4 233.3 443.6 219.8 C428.9 206.3 372.9 155.3 358.8 142.4" stroke="#fff" stroke-width="2" fill="none" stroke-linecap="butt" />
<path d="M552 407.9 L552 403.2 L552 403.2 C552 402.3 552 399.6 551.9 397.9 C551.9 396.1 551.9 394.3 551.8 392.6 C551.7 390.8 551.6 389.1 551.5 387.3 C551.4 385.6 551.3 383.8 551.2 382 C551 380.3 550.9 378.6 550.7 376.8 C550.5 375.1 550.3 373.3 550.1 371.6 C549.9 369.9 549.7 368.1 549.5 366.4 C549.2 364.7 549 362.9 548.7 361.2 C548.4 359.5 548.1 357.8 547.8 356.1 C547.5 354.4 547.2 352.6 546.8 350.9 C546.5 349.2 546.1 347.5 545.7 345.8 C545.3 344.2 545 342.5 544.5 340.8 C544.1 339.1 543.7 337.4 543.3 335.8 C542.8 334.1 542.3 332.4 541.9 330.8 C541.4 329.1 540.9 327.5 540.4 325.8 C539.9 324.2 539.3 322.5 538.8 320.9 C538.2 319.3 537.7 317.6 537.1 316 C536.5 314.4 535.9 312.8 535.3 311.2 C534.7 309.6 534.1 308 533.4 306.4 C532.8 304.8 532.1 303.2 531.4 301.6 C530.8 300.1 530.1 298.5 529.4 296.9 C528.7 295.4 527.9 293.8 527.2 292.3 C526.5 290.8 525.7 289.2 524.9 287.7 C524.2 286.2 523.4 284.7 522.6 283.2 C521.8 281.7 521 280.2 520.1 278.7 C519.3 277.2 518.4 275.7 517.6 274.3 C516.7 272.8 515.8 271.3 514.9 269.9 C514 268.4 513.1 267 512.2 265.6 C511.3 264.2 510.4 262.7 509.4 261.3 C508.4 259.9 507.5 258.5 506.5 257.2 C505.5 255.8 504.5 254.4 503.5 253 C502.5 251.7 501.5 250.3 500.4 249 C499.4 247.7 498.3 246.3 497.3 245 C496.2 243.7 495.1 242.4 494 241.1 C492.9 239.8 491.8 238.5 490.7 237.3 C489.6 236 488.5 234.7 487.3 233.5 C486.2 232.3 485 231 483.8 229.8 C482.7 228.6 481.5 227.4 480.3 226.2 C479.1 225 477.9 223.8 476.6 222.7 C475.4 221.5 487.7 232.7 472.9 219.2 C458.2 205.7 402.2 154.7 388.1 141.8" stroke="#2c2c2c" stroke-width="5" fill="none" stroke-linecap="butt" />
<path d="M552 407.9 L552 403.2 L552 403.2 C552 402.3 552 399.6 551.9 397.9 C551.9 396.1 551.9 394.3 551.8 392.6 C551.7 390.8 551.6 389.1 551.5 387.3 C551.4 385.6 551.3 383.8 551.2 382 C551 380.3 550.9 378.6 550.7 376.8 C550.5 375.1 550.3 373.3 550.1 371.6 C549.9 369.9 549.7 368.1 549.5 366.4 C549.2 364.7 549 362.9 548.7 361.2 C548.4 359.5 548.1 357.8 547.8 356.1 C547.5 354.4 547.2 352.6 546.8 350.9 C546.5 349.2 546.1 347.5 545.7 345.8 C545.3 344.2 545 342.5 544.5 340.8 C544.1 339.1 543.7 337.4 543.3 335.8 C542.8 334.1 542.3 332.4 541.9 330.8 C541.4 329.1 540.9 327.5 540.4 325.8 C539.9 324.2 539.3 322.5 538.8 320.9 C538.2 319.3 537.7 317.6 537.1 316 C536.5 314.4 535.9 312.8 535.3 311.2 C534.7 309.6 534.1 308 533.4 306.4 C532.8 304.8 532.1 303.2 531.4 301.6 C530.8 300.1 530.1 298.5 529.4 296.9 C528.7 295.4 527.9 293.8 527.2 292.3 C526.5 290.8 525.7 289.2 524.9 287.7 C524.2 286.2 523.4 284.7 522.6 283.2 C521.8 281.7 521 280.2 520.1 278.7 C519.3 277.2 518.4 275.7 517.6 274.3 C516.7 272.8 515.8 271.3 514.9 269.9 C514 268.4 513.1 267 512.2 265.6 C511.3 264.2 510.4 262.7 509.4 261.3 C508.4 259.9 507.5 258.5 506.5 257.2 C505.5 255.8 504.5 254.4 503.5 253 C502.5 251.7 501.5 250.3 500.4 249 C499.4 247.7 498.3 246.3 497.3 245 C496.2 243.7 495.1 242.4 494 241.1 C492.9 239.8 491.8 238.5 490.7 237.3 C489.6 236 488.5 234.7 487.3 233.5 C486.2 232.3 485 231 483.8 229.8 C482.7 228.6 481.5 227.4 480.3 226.2 C479.1 225 477.9 223.8 476.6 222.7 C475.4 221.5 487.7 232.7 472.9 219.2 C458.2 205.7 402.2 154.7 388.1 141.8" stroke="#fff" stroke-width="2" fill="none" stroke-linecap="butt" />
<path d="M266.7 432.4 L266.7 394.9 L266.7 394.9 C266.7 394.3 266.7 392.5 266.7 391.3 C266.8 390.1 266.8 388.9 266.9 387.7 C266.9 386.5 267 385.2 267.1 384 C267.1 382.8 267.2 381.6 267.3 380.4 C267.4 379.2 267.6 378 267.7 376.8 C267.8 375.6 268 374.4 268.1 373.2 C268.3 372 268.4 370.8 268.6 369.6 C268.8 368.4 269 367.2 269.2 366 C269.4 364.8 269.6 363.6 269.9 362.4 C270.1 361.2 270.4 360 270.6 358.8 C270.9 357.6 271.1 356.4 271.4 355.2 C271.7 354 272 352.9 272.3 351.7 C272.6 350.5 273 349.3 273.3 348.1 C273.6 346.9 274 345.8 274.3 344.6 C274.7 343.4 275.1 342.2 275.5 341.1 C275.8 339.9 276.2 338.7 276.7 337.6 C277.1 336.4 277.5 335.2 277.9 334.1 C278.4 332.9 278.8 331.8 279.3 330.6 C279.7 329.5 280.2 328.3 280.7 327.2 C281.2 326 281.7 324.9 282.2 323.8 C282.7 322.6 283.2 321.5 283.7 320.4 C284.2 319.3 284.8 318.1 285.3 317 C285.9 315.9 286.5 314.8 287 313.7 C287.6 312.6 288.2 311.5 288.8 310.4 C289.4 309.3 290 308.2 290.6 307.2 C291.3 306.1 291.9 305 292.5 303.9 C293.2 302.9 293.8 301.8 294.5 300.7 C295.2 299.7 295.9 298.6 296.5 297.6 C297.2 296.6 297.9 295.5 298.6 294.5 C299.3 293.5 300.1 292.4 300.8 291.4 C301.5 290.4 302.3 289.4 303 288.4 C303.8 287.4 304.5 286.4 305.3 285.4 C306.1 284.4 306.9 283.4 307.6 282.5 C308.4 281.5 309.2 280.5 310 279.6 C310.9 278.6 311.7 277.7 312.5 276.7 C313.3 275.8 314.2 274.9 315 273.9 C315.9 273 316.7 272.1 317.6 271.2 C318.5 270.3 319.3 269.4 320.2 268.5 C321.1 267.6 322 266.7 322.9 265.9 C323.8 265 309.9 277.9 325.6 263.3 C341.4 248.6 402.2 192.3 417.6 178.1" stroke="#2c2c2c" stroke-width="5" fill="none" stroke-linecap="butt" />
<path d="M266.7 432.4 L266.7 394.9 L266.7 394.9 C266.7 394.3 266.7 392.5 266.7 391.3 C266.8 390.1 266.8 388.9 266.9 387.7 C266.9 386.5 267 385.2 267.1 384 C267.1 382.8 267.2 381.6 267.3 380.4 C267.4 379.2 267.6 378 267.7 376.8 C267.8 375.6 268 374.4 268.1 373.2 C268.3 372 268.4 370.8 268.6 369.6 C268.8 368.4 269 367.2 269.2 366 C269.4 364.8 269.6 363.6 269.9 362.4 C270.1 361.2 270.4 360 270.6 358.8 C270.9 357.6 271.1 356.4 271.4 355.2 C271.7 354 272 352.9 272.3 351.7 C272.6 350.5 273 349.3 273.3 348.1 C273.6 346.9 274 345.8 274.3 344.6 C274.7 343.4 275.1 342.2 275.5 341.1 C275.8 339.9 276.2 338.7 276.7 337.6 C277.1 336.4 277.5 335.2 277.9 334.1 C278.4 332.9 278.8 331.8 279.3 330.6 C279.7 329.5 280.2 328.3 280.7 327.2 C281.2 326 281.7 324.9 282.2 323.8 C282.7 322.6 283.2 321.5 283.7 320.4 C284.2 319.3 284.8 318.1 285.3 317 C285.9 315.9 286.5 314.8 287 313.7 C287.6 312.6 288.2 311.5 288.8 310.4 C289.4 309.3 290 308.2 290.6 307.2 C291.3 306.1 291.9 305 292.5 303.9 C293.2 302.9 293.8 301.8 294.5 300.7 C295.2 299.7 295.9 298.6 296.5 297.6 C297.2 296.6 297.9 295.5 298.6 294.5 C299.3 293.5 300.1 292.4 300.8 291.4 C301.5 290.4 302.3 289.4 303 288.4 C303.8 287.4 304.5 286.4 305.3 285.4 C306.1 284.4 306.9 283.4 307.6 282.5 C308.4 281.5 309.2 280.5 310 279.6 C310.9 278.6 311.7 277.7 312.5 276.7 C313.3 275.8 314.2 274.9 315 273.9 C315.9 273 316.7 272.1 317.6 271.2 C318.5 270.3 319.3 269.4 320.2 268.5 C321.1 267.6 322 266.7 322.9 265.9 C323.8 265 309.9 277.9 325.6 263.3 C341.4 248.6 402.2 192.3 417.6 178.1" stroke="#fff" stroke-width="2" fill="none" stroke-linecap="butt" />
<path d="M300.8 429.4 L300.8 394.2 L300.8 394.2 C300.8 393.6 300.8 391.8 300.8 390.6 C300.9 389.4 300.9 388.2 301 387 C301 385.8 301.1 384.6 301.2 383.4 C301.2 382.2 301.3 381 301.4 379.7 C301.5 378.5 301.7 377.3 301.8 376.1 C301.9 374.9 302.1 373.7 302.2 372.5 C302.4 371.3 302.5 370.1 302.7 368.9 C302.9 367.7 303.1 366.5 303.3 365.3 C303.5 364.1 303.7 362.9 304 361.7 C304.2 360.5 304.5 359.3 304.7 358.1 C305 356.9 305.2 355.7 305.5 354.5 C305.8 353.4 306.1 352.2 306.4 351 C306.7 349.8 307.1 348.6 307.4 347.4 C307.7 346.3 308.1 345.1 308.4 343.9 C308.8 342.7 309.2 341.5 309.6 340.4 C309.9 339.2 310.3 338 310.8 336.9 C311.2 335.7 311.6 334.6 312 333.4 C312.5 332.2 312.9 331.1 313.4 329.9 C313.8 328.8 314.3 327.6 314.8 326.5 C315.3 325.4 315.8 324.2 316.3 323.1 C316.8 322 317.3 320.8 317.8 319.7 C318.3 318.6 318.9 317.5 319.4 316.4 C320 315.2 320.6 314.1 321.1 313 C321.7 311.9 322.3 310.8 322.9 309.7 C323.5 308.6 324.1 307.6 324.7 306.5 C325.4 305.4 326 304.3 326.6 303.3 C327.3 302.2 327.9 301.1 328.6 300.1 C329.3 299 330 298 330.6 296.9 C331.3 295.9 332 294.8 332.7 293.8 C333.4 292.8 334.2 291.8 334.9 290.7 C335.6 289.7 336.4 288.7 337.1 287.7 C337.9 286.7 338.6 285.7 339.4 284.7 C340.2 283.7 341 282.8 341.7 281.8 C342.5 280.8 343.3 279.9 344.1 278.9 C345 277.9 345.8 277 346.6 276.1 C347.4 275.1 348.3 274.2 349.1 273.3 C350 272.3 350.8 271.4 351.7 270.5 C352.6 269.6 353.4 268.7 354.3 267.8 C355.2 266.9 356.1 266.1 357 265.2 C357.9 264.3 344 277.2 359.7 262.6 C375.5 248 436.3 191.6 451.7 177.4" stroke="#2c2c2c" stroke-width="5" fill="none" stroke-linecap="butt" />
<path d="M300.8 429.4 L300.8 394.2 L300.8 394.2 C300.8 393.6 300.8 391.8 300.8 390.6 C300.9 389.4 300.9 388.2 301 387 C301 385.8 301.1 384.6 301.2 383.4 C301.2 382.2 301.3 381 301.4 379.7 C301.5 378.5 301.7 377.3 301.8 376.1 C301.9 374.9 302.1 373.7 302.2 372.5 C302.4 371.3 302.5 370.1 302.7 368.9 C302.9 367.7 303.1 366.5 303.3 365.3 C303.5 364.1 303.7 362.9 304 361.7 C304.2 360.5 304.5 359.3 304.7 358.1 C305 356.9 305.2 355.7 305.5 354.5 C305.8 353.4 306.1 352.2 306.4 351 C306.7 349.8 307.1 348.6 307.4 347.4 C307.7 346.3 308.1 345.1 308.4 343.9 C308.8 342.7 309.2 341.5 309.6 340.4 C309.9 339.2 310.3 338 310.8 336.9 C311.2 335.7 311.6 334.6 312 333.4 C312.5 332.2 312.9 331.1 313.4 329.9 C313.8 328.8 314.3 327.6 314.8 326.5 C315.3 325.4 315.8 324.2 316.3 323.1 C316.8 322 317.3 320.8 317.8 319.7 C318.3 318.6 318.9 317.5 319.4 316.4 C320 315.2 320.6 314.1 321.1 313 C321.7 311.9 322.3 310.8 322.9 309.7 C323.5 308.6 324.1 307.6 324.7 306.5 C325.4 305.4 326 304.3 326.6 303.3 C327.3 302.2 327.9 301.1 328.6 300.1 C329.3 299 330 298 330.6 296.9 C331.3 295.9 332 294.8 332.7 293.8 C333.4 292.8 334.2 291.8 334.9 290.7 C335.6 289.7 336.4 288.7 337.1 287.7 C337.9 286.7 338.6 285.7 339.4 284.7 C340.2 283.7 341 282.8 341.7 281.8 C342.5 280.8 343.3 279.9 344.1 278.9 C345 277.9 345.8 277 346.6 276.1 C347.4 275.1 348.3 274.2 349.1 273.3 C350 272.3 350.8 271.4 351.7 270.5 C352.6 269.6 353.4 268.7 354.3 267.8 C355.2 266.9 356.1 266.1 357 265.2 C357.9 264.3 344 277.2 359.7 262.6 C375.5 248 436.3 191.6 451.7 177.4" stroke="#fff" stroke-width="2" fill="none" stroke-linecap="butt" />
<path d="M334.3 426.6 L334.3 393.5 L334.3 393.5 C334.3 392.9 334.3 391.1 334.3 389.9 C334.4 388.7 334.4 387.5 334.5 386.3 C334.5 385.1 334.6 383.9 334.7 382.7 C334.7 381.5 334.8 380.3 334.9 379.1 C335 377.9 335.2 376.7 335.3 375.5 C335.4 374.3 335.6 373.1 335.7 371.9 C335.9 370.6 336 369.4 336.2 368.2 C336.4 367 336.6 365.8 336.8 364.6 C337 363.4 337.2 362.2 337.5 361 C337.7 359.8 338 358.7 338.2 357.5 C338.5 356.3 338.7 355.1 339 353.9 C339.3 352.7 339.6 351.5 339.9 350.3 C340.2 349.1 340.6 347.9 340.9 346.8 C341.2 345.6 341.6 344.4 341.9 343.2 C342.3 342 342.7 340.9 343.1 339.7 C343.4 338.5 343.8 337.4 344.3 336.2 C344.7 335 345.1 333.9 345.5 332.7 C346 331.6 346.4 330.4 346.9 329.3 C347.3 328.1 347.8 327 348.3 325.8 C348.8 324.7 349.3 323.6 349.8 322.4 C350.3 321.3 350.8 320.2 351.3 319 C351.8 317.9 352.4 316.8 352.9 315.7 C353.5 314.6 354.1 313.5 354.6 312.4 C355.2 311.3 355.8 310.2 356.4 309.1 C357 308 357.6 306.9 358.2 305.8 C358.9 304.7 359.5 303.7 360.1 302.6 C360.8 301.5 361.4 300.5 362.1 299.4 C362.8 298.3 363.5 297.3 364.1 296.2 C364.8 295.2 365.5 294.2 366.2 293.1 C366.9 292.1 367.7 291.1 368.4 290.1 C369.1 289.1 369.9 288 370.6 287 C371.4 286 372.1 285 372.9 284.1 C373.7 283.1 374.5 282.1 375.2 281.1 C376 280.1 376.8 279.2 377.6 278.2 C378.5 277.3 379.3 276.3 380.1 275.4 C380.9 274.4 381.8 273.5 382.6 272.6 C383.5 271.7 384.3 270.8 385.2 269.8 C386.1 268.9 386.9 268 387.8 267.2 C388.7 266.3 389.6 265.4 390.5 264.5 C391.4 263.6 377.5 276.6 393.2 261.9 C409 247.3 469.8 190.9 485.2 176.7" stroke="#2c2c2c" stroke-width="5" fill="none" stroke-linecap="butt" />
<path d="M334.3 426.6 L334.3 393.5 L334.3 393.5 C334.3 392.9 334.3 391.1 334.3 389.9 C334.4 388.7 334.4 387.5 334.5 386.3 C334.5 385.1 334.6 383.9 334.7 382.7 C334.7 381.5 334.8 380.3 334.9 379.1 C335 377.9 335.2 376.7 335.3 375.5 C335.4 374.3 335.6 373.1 335.7 371.9 C335.9 370.6 336 369.4 336.2 368.2 C336.4 367 336.6 365.8 336.8 364.6 C337 363.4 337.2 362.2 337.5 361 C337.7 359.8 338 358.7 338.2 357.5 C338.5 356.3 338.7 355.1 339 353.9 C339.3 352.7 339.6 351.5 339.9 350.3 C340.2 349.1 340.6 347.9 340.9 346.8 C341.2 345.6 341.6 344.4 341.9 343.2 C342.3 342 342.7 340.9 343.1 339.7 C343.4 338.5 343.8 337.4 344.3 336.2 C344.7 335 345.1 333.9 345.5 332.7 C346 331.6 346.4 330.4 346.9 329.3 C347.3 328.1 347.8 327 348.3 325.8 C348.8 324.7 349.3 323.6 349.8 322.4 C350.3 321.3 350.8 320.2 351.3 319 C351.8 317.9 352.4 316.8 352.9 315.7 C353.5 314.6 354.1 313.5 354.6 312.4 C355.2 311.3 355.8 310.2 356.4 309.1 C357 308 357.6 306.9 358.2 305.8 C358.9 304.7 359.5 303.7 360.1 302.6 C360.8 301.5 361.4 300.5 362.1 299.4 C362.8 298.3 363.5 297.3 364.1 296.2 C364.8 295.2 365.5 294.2 366.2 293.1 C366.9 292.1 367.7 291.1 368.4 290.1 C369.1 289.1 369.9 288 370.6 287 C371.4 286 372.1 285 372.9 284.1 C373.7 283.1 374.5 282.1 375.2 281.1 C376 280.1 376.8 279.2 377.6 278.2 C378.5 277.3 379.3 276.3 380.1 275.4 C380.9 274.4 381.8 273.5 382.6 272.6 C383.5 271.7 384.3 270.8 385.2 269.8 C386.1 268.9 386.9 268 387.8 267.2 C388.7 266.3 389.6 265.4 390.5 264.5 C391.4 263.6 377.5 276.6 393.2 261.9 C409 247.3 469.8 190.9 485.2 176.7" stroke="#fff" stroke-width="2" fill="none" stroke-linecap="butt" />
<path d="M367.2 423.8 L367.2 392.9 L367.2 392.9 C367.2 392.3 367.2 390.5 367.2 389.3 C367.3 388.1 367.3 386.8 367.4 385.6 C367.4 384.4 367.5 383.2 367.6 382 C367.6 380.8 367.7 379.6 367.8 378.4 C367.9 377.2 368.1 376 368.2 374.8 C368.3 373.6 368.5 372.4 368.6 371.2 C368.8 370 368.9 368.8 369.1 367.6 C369.3 366.4 369.5 365.2 369.7 364 C369.9 362.8 370.1 361.6 370.4 360.4 C370.6 359.2 370.9 358 371.1 356.8 C371.4 355.6 371.6 354.4 371.9 353.2 C372.2 352 372.5 350.8 372.8 349.7 C373.1 348.5 373.5 347.3 373.8 346.1 C374.1 344.9 374.5 343.7 374.8 342.6 C375.2 341.4 375.6 340.2 376 339 C376.3 337.9 376.7 336.7 377.2 335.5 C377.6 334.4 378 333.2 378.4 332.1 C378.9 330.9 379.3 329.8 379.8 328.6 C380.2 327.5 380.7 326.3 381.2 325.2 C381.7 324 382.2 322.9 382.7 321.8 C383.2 320.6 383.7 319.5 384.2 318.4 C384.7 317.3 385.3 316.1 385.8 315 C386.4 313.9 387 312.8 387.5 311.7 C388.1 310.6 388.7 309.5 389.3 308.4 C389.9 307.3 390.5 306.2 391.1 305.2 C391.8 304.1 392.4 303 393 301.9 C393.7 300.9 394.3 299.8 395 298.7 C395.7 297.7 396.4 296.6 397 295.6 C397.7 294.5 398.4 293.5 399.1 292.5 C399.8 291.4 400.6 290.4 401.3 289.4 C402 288.4 402.8 287.4 403.5 286.4 C404.3 285.4 405 284.4 405.8 283.4 C406.6 282.4 407.4 281.4 408.1 280.5 C408.9 279.5 409.7 278.5 410.5 277.6 C411.4 276.6 412.2 275.7 413 274.7 C413.8 273.8 414.7 272.9 415.5 271.9 C416.4 271 417.2 270.1 418.1 269.2 C419 268.3 419.8 267.4 420.7 266.5 C421.6 265.6 422.5 264.7 423.4 263.9 C424.3 263 410.4 275.9 426.1 261.3 C441.9 246.6 502.7 190.3 518.1 176" stroke="#2c2c2c" stroke-width="5" fill="none" stroke-linecap="butt" />
<path d="M367.2 423.8 L367.2 392.9 L367.2 392.9 C367.2 392.3 367.2 390.5 367.2 389.3 C367.3 388.1 367.3 386.8 367.4 385.6 C367.4 384.4 367.5 383.2 367.6 382 C367.6 380.8 367.7 379.6 367.8 378.4 C367.9 377.2 368.1 376 368.2 374.8 C368.3 373.6 368.5 372.4 368.6 371.2 C368.8 370 368.9 368.8 369.1 367.6 C369.3 366.4 369.5 365.2 369.7 364 C369.9 362.8 370.1 361.6 370.4 360.4 C370.6 359.2 370.9 358 371.1 356.8 C371.4 355.6 371.6 354.4 371.9 353.2 C372.2 352 372.5 350.8 372.8 349.7 C373.1 348.5 373.5 347.3 373.8 346.1 C374.1 344.9 374.5 343.7 374.8 342.6 C375.2 341.4 375.6 340.2 376 339 C376.3 337.9 376.7 336.7 377.2 335.5 C377.6 334.4 378 333.2 378.4 332.1 C378.9 330.9 379.3 329.8 379.8 328.6 C380.2 327.5 380.7 326.3 381.2 325.2 C381.7 324 382.2 322.9 382.7 321.8 C383.2 320.6 383.7 319.5 384.2 318.4 C384.7 317.3 385.3 316.1 385.8 315 C386.4 313.9 387 312.8 387.5 311.7 C388.1 310.6 388.7 309.5 389.3 308.4 C389.9 307.3 390.5 306.2 391.1 305.2 C391.8 304.1 392.4 303 393 301.9 C393.7 300.9 394.3 299.8 395 298.7 C395.7 297.7 396.4 296.6 397 295.6 C397.7 294.5 398.4 293.5 399.1 292.5 C399.8 291.4 400.6 290.4 401.3 289.4 C402 288.4 402.8 287.4 403.5 286.4 C404.3 285.4 405 284.4 405.8 283.4 C406.6 282.4 407.4 281.4 408.1 280.5 C408.9 279.5 409.7 278.5 410.5 277.6 C411.4 276.6 412.2 275.7 413 274.7 C413.8 273.8 414.7 272.9 415.5 271.9 C416.4 271 417.2 270.1 418.1 269.2 C419 268.3 419.8 267.4 420.7 266.5 C421.6 265.6 422.5 264.7 423.4 263.9 C424.3 263 410.4 275.9 426.1 261.3 C441.9 246.6 502.7 190.3 518.1 176" stroke="#fff" stroke-width="2" fill="none" stroke-linecap="butt" />
<path d="M399.5 421 L399.5 392.2 L399.5 392.2 C399.5 391.6 399.5 389.8 399.5 388.6 C399.6 387.4 399.6 386.2 399.7 385 C399.7 383.8 399.8 382.6 399.9 381.4 C399.9 380.2 400 379 400.1 377.8 C400.2 376.6 400.4 375.4 400.5 374.2 C400.6 373 400.8 371.8 400.9 370.5 C401.1 369.3 401.2 368.1 401.4 366.9 C401.6 365.7 401.8 364.5 402 363.3 C402.2 362.1 402.4 360.9 402.7 359.7 C402.9 358.5 403.2 357.3 403.4 356.2 C403.7 355 403.9 353.8 404.2 352.6 C404.5 351.4 404.8 350.2 405.1 349 C405.4 347.8 405.8 346.6 406.1 345.5 C406.4 344.3 406.8 343.1 407.1 341.9 C407.5 340.7 407.9 339.6 408.3 338.4 C408.6 337.2 409 336.1 409.5 334.9 C409.9 333.7 410.3 332.6 410.7 331.4 C411.2 330.3 411.6 329.1 412.1 328 C412.5 326.8 413 325.7 413.5 324.5 C414 323.4 414.5 322.2 415 321.1 C415.5 320 416 318.9 416.5 317.7 C417 316.6 417.6 315.5 418.1 314.4 C418.7 313.3 419.3 312.2 419.8 311.1 C420.4 310 421 308.9 421.6 307.8 C422.2 306.7 422.8 305.6 423.4 304.5 C424.1 303.4 424.7 302.4 425.3 301.3 C426 300.2 426.6 299.2 427.3 298.1 C428 297 428.7 296 429.3 294.9 C430 293.9 430.7 292.9 431.4 291.8 C432.1 290.8 432.9 289.8 433.6 288.8 C434.3 287.7 435.1 286.7 435.8 285.7 C436.6 284.7 437.3 283.7 438.1 282.8 C438.9 281.8 439.7 280.8 440.4 279.8 C441.2 278.8 442 277.9 442.8 276.9 C443.7 276 444.5 275 445.3 274.1 C446.1 273.1 447 272.2 447.8 271.3 C448.7 270.4 449.5 269.4 450.4 268.5 C451.3 267.6 452.1 266.7 453 265.8 C453.9 265 454.8 264.1 455.7 263.2 C456.6 262.3 442.7 275.3 458.4 260.6 C474.2 246 535 189.6 550.4 175.4" stroke="#2c2c2c" stroke-width="5" fill="none" stroke-linecap="butt" />
<path d="M399.5 421 L399.5 392.2 L399.5 392.2 C399.5 391.6 399.5 389.8 399.5 388.6 C399.6 387.4 399.6 386.2 399.7 385 C399.7 383.8 399.8 382.6 399.9 381.4 C399.9 380.2 400 379 400.1 377.8 C400.2 376.6 400.4 375.4 400.5 374.2 C400.6 373 400.8 371.8 400.9 370.5 C401.1 369.3 401.2 368.1 401.4 366.9 C401.6 365.7 401.8 364.5 402 363.3 C402.2 362.1 402.4 360.9 402.7 359.7 C402.9 358.5 403.2 357.3 403.4 356.2 C403.7 355 403.9 353.8 404.2 352.6 C404.5 351.4 404.8 350.2 405.1 349 C405.4 347.8 405.8 346.6 406.1 345.5 C406.4 344.3 406.8 343.1 407.1 341.9 C407.5 340.7 407.9 339.6 408.3 338.4 C408.6 337.2 409 336.1 409.5 334.9 C409.9 333.7 410.3 332.6 410.7 331.4 C411.2 330.3 411.6 329.1 412.1 328 C412.5 326.8 413 325.7 413.5 324.5 C414 323.4 414.5 322.2 415 321.1 C415.5 320 416 318.9 416.5 317.7 C417 316.6 417.6 315.5 418.1 314.4 C418.7 313.3 419.3 312.2 419.8 311.1 C420.4 310 421 308.9 421.6 307.8 C422.2 306.7 422.8 305.6 423.4 304.5 C424.1 303.4 424.7 302.4 425.3 301.3 C426 300.2 426.6 299.2 427.3 298.1 C428 297 428.7 296 429.3 294.9 C430 293.9 430.7 292.9 431.4 291.8 C432.1 290.8 432.9 289.8 433.6 288.8 C434.3 287.7 435.1 286.7 435.8 285.7 C436.6 284.7 437.3 283.7 438.1 282.8 C438.9 281.8 439.7 280.8 440.4 279.8 C441.2 278.8 442 277.9 442.8 276.9 C443.7 276 444.5 275 445.3 274.1 C446.1 273.1 447 272.2 447.8 271.3 C448.7 270.4 449.5 269.4 450.4 268.5 C451.3 267.6 452.1 266.7 453 265.8 C453.9 265 454.8 264.1 455.7 263.2 C456.6 262.3 442.7 275.3 458.4 260.6 C474.2 246 535 189.6 550.4 175.4" stroke="#fff" stroke-width="2" fill="none" stroke-linecap="butt" />
<path d="M431.2 418.3 L431.2 391.6 L431.2 391.6 C431.2 391 431.2 389.2 431.2 388 C431.3 386.8 431.3 385.6 431.4 384.4 C431.4 383.2 431.5 382 431.6 380.8 C431.6 379.5 431.7 378.3 431.8 377.1 C431.9 375.9 432.1 374.7 432.2 373.5 C432.3 372.3 432.5 371.1 432.6 369.9 C432.8 368.7 432.9 367.5 433.1 366.3 C433.3 365.1 433.5 363.9 433.7 362.7 C433.9 361.5 434.1 360.3 434.4 359.1 C434.6 357.9 434.9 356.7 435.1 355.5 C435.4 354.3 435.6 353.1 435.9 351.9 C436.2 350.8 436.5 349.6 436.8 348.4 C437.1 347.2 437.5 346 437.8 344.8 C438.1 343.6 438.5 342.5 438.8 341.3 C439.2 340.1 439.6 338.9 440 337.8 C440.3 336.6 440.7 335.4 441.2 334.3 C441.6 333.1 442 331.9 442.4 330.8 C442.9 329.6 443.3 328.5 443.8 327.3 C444.2 326.2 444.7 325 445.2 323.9 C445.7 322.8 446.2 321.6 446.7 320.5 C447.2 319.4 447.7 318.2 448.2 317.1 C448.7 316 449.3 314.9 449.8 313.7 C450.4 312.6 451 311.5 451.5 310.4 C452.1 309.3 452.7 308.2 453.3 307.1 C453.9 306 454.5 305 455.1 303.9 C455.8 302.8 456.4 301.7 457 300.6 C457.7 299.6 458.3 298.5 459 297.5 C459.7 296.4 460.4 295.4 461 294.3 C461.7 293.3 462.4 292.2 463.1 291.2 C463.8 290.2 464.6 289.1 465.3 288.1 C466 287.1 466.8 286.1 467.5 285.1 C468.3 284.1 469 283.1 469.8 282.1 C470.6 281.1 471.4 280.2 472.1 279.2 C472.9 278.2 473.7 277.2 474.5 276.3 C475.4 275.3 476.2 274.4 477 273.4 C477.8 272.5 478.7 271.6 479.5 270.7 C480.4 269.7 481.2 268.8 482.1 267.9 C483 267 483.8 266.1 484.7 265.2 C485.6 264.3 486.5 263.4 487.4 262.6 C488.3 261.7 474.4 274.6 490.1 260 C505.9 245.4 566.7 189 582.1 174.8" stroke="#2c2c2c" stroke-width="5" fill="none" stroke-linecap="butt" />
<path d="M431.2 418.3 L431.2 391.6 L431.2 391.6 C431.2 391 431.2 389.2 431.2 388 C431.3 386.8 431.3 385.6 431.4 384.4 C431.4 383.2 431.5 382 431.6 380.8 C431.6 379.5 431.7 378.3 431.8 377.1 C431.9 375.9 432.1 374.7 432.2 373.5 C432.3 372.3 432.5 371.1 432.6 369.9 C432.8 368.7 432.9 367.5 433.1 366.3 C433.3 365.1 433.5 363.9 433.7 362.7 C433.9 361.5 434.1 360.3 434.4 359.1 C434.6 357.9 434.9 356.7 435.1 355.5 C435.4 354.3 435.6 353.1 435.9 351.9 C436.2 350.8 436.5 349.6 436.8 348.4 C437.1 347.2 437.5 346 437.8 344.8 C438.1 343.6 438.5 342.5 438.8 341.3 C439.2 340.1 439.6 338.9 440 337.8 C440.3 336.6 440.7 335.4 441.2 334.3 C441.6 333.1 442 331.9 442.4 330.8 C442.9 329.6 443.3 328.5 443.8 327.3 C444.2 326.2 444.7 325 445.2 323.9 C445.7 322.8 446.2 321.6 446.7 320.5 C447.2 319.4 447.7 318.2 448.2 317.1 C448.7 316 449.3 314.9 449.8 313.7 C450.4 312.6 451 311.5 451.5 310.4 C452.1 309.3 452.7 308.2 453.3 307.1 C453.9 306 454.5 305 455.1 303.9 C455.8 302.8 456.4 301.7 457 300.6 C457.7 299.6 458.3 298.5 459 297.5 C459.7 296.4 460.4 295.4 461 294.3 C461.7 293.3 462.4 292.2 463.1 291.2 C463.8 290.2 464.6 289.1 465.3 288.1 C466 287.1 466.8 286.1 467.5 285.1 C468.3 284.1 469 283.1 469.8 282.1 C470.6 281.1 471.4 280.2 472.1 279.2 C472.9 278.2 473.7 277.2 474.5 276.3 C475.4 275.3 476.2 274.4 477 273.4 C477.8 272.5 478.7 271.6 479.5 270.7 C480.4 269.7 481.2 268.8 482.1 267.9 C483 267 483.8 266.1 484.7 265.2 C485.6 264.3 486.5 263.4 487.4 262.6 C488.3 261.7 474.4 274.6 490.1 260 C505.9 245.4 566.7 189 582.1 174.8" stroke="#fff" stroke-width="2" fill="none" stroke-linecap="butt" />
<path d="M462.3 415.6 L462.3 391 L462.3 391 C462.3 390.4 462.3 388.6 462.3 387.4 C462.4 386.1 462.4 384.9 462.5 383.7 C462.5 382.5 462.6 381.3 462.7 380.1 C462.7 378.9 462.8 377.7 462.9 376.5 C463 375.3 463.2 374.1 463.3 372.9 C463.4 371.7 463.6 370.5 463.7 369.3 C463.9 368.1 464 366.9 464.2 365.7 C464.4 364.5 464.6 363.3 464.8 362.1 C465 360.9 465.2 359.7 465.5 358.5 C465.7 357.3 466 356.1 466.2 354.9 C466.5 353.7 466.7 352.5 467 351.3 C467.3 350.1 467.6 348.9 467.9 347.8 C468.2 346.6 468.6 345.4 468.9 344.2 C469.2 343 469.6 341.8 469.9 340.7 C470.3 339.5 470.7 338.3 471.1 337.1 C471.4 336 471.8 334.8 472.3 333.6 C472.7 332.5 473.1 331.3 473.5 330.2 C474 329 474.4 327.9 474.9 326.7 C475.3 325.6 475.8 324.4 476.3 323.3 C476.8 322.1 477.3 321 477.8 319.9 C478.3 318.7 478.8 317.6 479.3 316.5 C479.8 315.4 480.4 314.2 480.9 313.1 C481.5 312 482.1 310.9 482.6 309.8 C483.2 308.7 483.8 307.6 484.4 306.5 C485 305.4 485.6 304.3 486.2 303.2 C486.9 302.2 487.5 301.1 488.1 300 C488.8 299 489.4 297.9 490.1 296.8 C490.8 295.8 491.5 294.7 492.1 293.7 C492.8 292.6 493.5 291.6 494.2 290.6 C494.9 289.5 495.7 288.5 496.4 287.5 C497.1 286.5 497.9 285.5 498.6 284.5 C499.4 283.5 500.1 282.5 500.9 281.5 C501.7 280.5 502.5 279.5 503.2 278.6 C504 277.6 504.8 276.6 505.6 275.7 C506.5 274.7 507.3 273.8 508.1 272.8 C508.9 271.9 509.8 271 510.6 270 C511.5 269.1 512.3 268.2 513.2 267.3 C514.1 266.4 514.9 265.5 515.8 264.6 C516.7 263.7 517.6 262.8 518.5 262 C519.4 261.1 505.5 274 521.2 259.4 C537 244.7 597.8 188.3 613.2 174.1" stroke="#2c2c2c" stroke-width="5" fill="none" stroke-linecap="butt" />
<path d="M462.3 415.6 L462.3 391 L462.3 391 C462.3 390.4 462.3 388.6 462.3 387.4 C462.4 386.1 462.4 384.9 462.5 383.7 C462.5 382.5 462.6 381.3 462.7 380.1 C462.7 378.9 462.8 377.7 462.9 376.5 C463 375.3 463.2 374.1 463.3 372.9 C463.4 371.7 463.6 370.5 463.7 369.3 C463.9 368.1 464 366.9 464.2 365.7 C464.4 364.5 464.6 363.3 464.8 362.1 C465 360.9 465.2 359.7 465.5 358.5 C465.7 357.3 466 356.1 466.2 354.9 C466.5 353.7 466.7 352.5 467 351.3 C467.3 350.1 467.6 348.9 467.9 347.8 C468.2 346.6 468.6 345.4 468.9 344.2 C469.2 343 469.6 341.8 469.9 340.7 C470.3 339.5 470.7 338.3 471.1 337.1 C471.4 336 471.8 334.8 472.3 333.6 C472.7 332.5 473.1 331.3 473.5 330.2 C474 329 474.4 327.9 474.9 326.7 C475.3 325.6 475.8 324.4 476.3 323.3 C476.8 322.1 477.3 321 477.8 319.9 C478.3 318.7 478.8 317.6 479.3 316.5 C479.8 315.4 480.4 314.2 480.9 313.1 C481.5 312 482.1 310.9 482.6 309.8 C483.2 308.7 483.8 307.6 484.4 306.5 C485 305.4 485.6 304.3 486.2 303.2 C486.9 302.2 487.5 301.1 488.1 300 C488.8 299 489.4 297.9 490.1 296.8 C490.8 295.8 491.5 294.7 492.1 293.7 C492.8 292.6 493.5 291.6 494.2 290.6 C494.9 289.5 495.7 288.5 496.4 287.5 C497.1 286.5 497.9 285.5 498.6 284.5 C499.4 283.5 500.1 282.5 500.9 281.5 C501.7 280.5 502.5 279.5 503.2 278.6 C504 277.6 504.8 276.6 505.6 275.7 C506.5 274.7 507.3 273.8 508.1 272.8 C508.9 271.9 509.8 271 510.6 270 C511.5 269.1 512.3 268.2 513.2 267.3 C514.1 266.4 514.9 265.5 515.8 264.6 C516.7 263.7 517.6 262.8 518.5 262 C519.4 261.1 505.5 274 521.2 259.4 C537 244.7 597.8 188.3 613.2 174.1" stroke="#fff" stroke-width="2" fill="none" stroke-linecap="butt" />
<path d="M492.8 413 L492.8 390.3 L492.8 390.3 C492.8 389.7 492.8 387.9 492.8 386.7 C492.9 385.5 492.9 384.3 493 383.1 C493 381.9 493.1 380.7 493.2 379.5 C493.2 378.3 493.3 377.1 493.4 375.9 C493.5 374.7 493.7 373.5 493.8 372.3 C493.9 371.1 494.1 369.9 494.2 368.7 C494.4 367.5 494.5 366.3 494.7 365.1 C494.9 363.9 495.1 362.7 495.3 361.5 C495.5 360.3 495.7 359.1 496 357.9 C496.2 356.7 496.5 355.5 496.7 354.3 C497 353.1 497.2 351.9 497.5 350.7 C497.8 349.5 498.1 348.3 498.4 347.1 C498.7 346 499.1 344.8 499.4 343.6 C499.7 342.4 500.1 341.2 500.4 340.1 C500.8 338.9 501.2 337.7 501.6 336.5 C501.9 335.4 502.3 334.2 502.8 333 C503.2 331.9 503.6 330.7 504 329.6 C504.5 328.4 504.9 327.2 505.4 326.1 C505.8 324.9 506.3 323.8 506.8 322.7 C507.3 321.5 507.8 320.4 508.3 319.3 C508.8 318.1 509.3 317 509.8 315.9 C510.3 314.7 510.9 313.6 511.4 312.5 C512 311.4 512.6 310.3 513.1 309.2 C513.7 308.1 514.3 307 514.9 305.9 C515.5 304.8 516.1 303.7 516.7 302.6 C517.4 301.6 518 300.5 518.6 299.4 C519.3 298.3 519.9 297.3 520.6 296.2 C521.3 295.2 522 294.1 522.6 293.1 C523.3 292 524 291 524.7 290 C525.4 288.9 526.2 287.9 526.9 286.9 C527.6 285.9 528.4 284.9 529.1 283.9 C529.9 282.9 530.6 281.9 531.4 280.9 C532.2 279.9 533 278.9 533.7 277.9 C534.5 277 535.3 276 536.1 275.1 C537 274.1 537.8 273.2 538.6 272.2 C539.4 271.3 540.3 270.3 541.1 269.4 C542 268.5 542.8 267.6 543.7 266.7 C544.6 265.8 545.4 264.9 546.3 264 C547.2 263.1 548.1 262.2 549 261.3 C549.9 260.5 536 273.4 551.7 258.8 C567.5 244.1 628.3 187.7 643.7 173.5" stroke="#2c2c2c" stroke-width="5" fill="none" stroke-linecap="butt" />
<path d="M492.8 413 L492.8 390.3 L492.8 390.3 C492.8 389.7 492.8 387.9 492.8 386.7 C492.9 385.5 492.9 384.3 493 383.1 C493 381.9 493.1 380.7 493.2 379.5 C493.2 378.3 493.3 377.1 493.4 375.9 C493.5 374.7 493.7 373.5 493.8 372.3 C493.9 371.1 494.1 369.9 494.2 368.7 C494.4 367.5 494.5 366.3 494.7 365.1 C494.9 363.9 495.1 362.7 495.3 361.5 C495.5 360.3 495.7 359.1 496 357.9 C496.2 356.7 496.5 355.5 496.7 354.3 C497 353.1 497.2 351.9 497.5 350.7 C497.8 349.5 498.1 348.3 498.4 347.1 C498.7 346 499.1 344.8 499.4 343.6 C499.7 342.4 500.1 341.2 500.4 340.1 C500.8 338.9 501.2 337.7 501.6 336.5 C501.9 335.4 502.3 334.2 502.8 333 C503.2 331.9 503.6 330.7 504 329.6 C504.5 328.4 504.9 327.2 505.4 326.1 C505.8 324.9 506.3 323.8 506.8 322.7 C507.3 321.5 507.8 320.4 508.3 319.3 C508.8 318.1 509.3 317 509.8 315.9 C510.3 314.7 510.9 313.6 511.4 312.5 C512 311.4 512.6 310.3 513.1 309.2 C513.7 308.1 514.3 307 514.9 305.9 C515.5 304.8 516.1 303.7 516.7 302.6 C517.4 301.6 518 300.5 518.6 299.4 C519.3 298.3 519.9 297.3 520.6 296.2 C521.3 295.2 522 294.1 522.6 293.1 C523.3 292 524 291 524.7 290 C525.4 288.9 526.2 287.9 526.9 286.9 C527.6 285.9 528.4 284.9 529.1 283.9 C529.9 282.9 530.6 281.9 531.4 280.9 C532.2 279.9 533 278.9 533.7 277.9 C534.5 277 535.3 276 536.1 275.1 C537 274.1 537.8 273.2 538.6 272.2 C539.4 271.3 540.3 270.3 541.1 269.4 C542 268.5 542.8 267.6 543.7 266.7 C544.6 265.8 545.4 264.9 546.3 264 C547.2 263.1 548.1 262.2 549 261.3 C549.9 260.5 536 273.4 551.7 258.8 C567.5 244.1 628.3 187.7 643.7 173.5" stroke="#fff" stroke-width="2" fill="none" stroke-linecap="butt" />
<path d="M522.7 410.5 L522.7 389.7 L522.7 389.7 C522.7 389.1 522.7 387.3 522.7 386.1 C522.8 384.9 522.8 383.7 522.9 382.5 C522.9 381.3 523 380.1 523.1 378.9 C523.1 377.7 523.2 376.5 523.3 375.3 C523.4 374.1 523.6 372.9 523.7 371.7 C523.8 370.5 524 369.3 524.1 368.1 C524.3 366.9 524.4 365.7 524.6 364.5 C524.8 363.3 525 362.1 525.2 360.9 C525.4 359.7 525.6 358.5 525.9 357.3 C526.1 356.1 526.4 354.9 526.6 353.7 C526.9 352.5 527.1 351.3 527.4 350.1 C527.7 348.9 528 347.7 528.3 346.5 C528.6 345.4 529 344.2 529.3 343 C529.6 341.8 530 340.6 530.3 339.5 C530.7 338.3 531.1 337.1 531.5 335.9 C531.8 334.8 532.2 333.6 532.7 332.4 C533.1 331.3 533.5 330.1 533.9 329 C534.4 327.8 534.8 326.6 535.3 325.5 C535.7 324.3 536.2 323.2 536.7 322.1 C537.2 320.9 537.7 319.8 538.2 318.7 C538.7 317.5 539.2 316.4 539.7 315.3 C540.2 314.1 540.8 313 541.3 311.9 C541.9 310.8 542.5 309.7 543 308.6 C543.6 307.5 544.2 306.4 544.8 305.3 C545.4 304.2 546 303.1 546.6 302 C547.3 301 547.9 299.9 548.5 298.8 C549.2 297.7 549.8 296.7 550.5 295.6 C551.2 294.6 551.9 293.5 552.5 292.5 C553.2 291.4 553.9 290.4 554.6 289.4 C555.3 288.3 556.1 287.3 556.8 286.3 C557.5 285.3 558.3 284.3 559 283.3 C559.8 282.3 560.5 281.3 561.3 280.3 C562.1 279.3 562.9 278.3 563.6 277.4 C564.4 276.4 565.2 275.4 566 274.5 C566.9 273.5 567.7 272.6 568.5 271.6 C569.3 270.7 570.2 269.7 571 268.8 C571.9 267.9 572.7 267 573.6 266.1 C574.5 265.2 575.3 264.3 576.2 263.4 C577.1 262.5 578 261.6 578.9 260.7 C579.8 259.9 565.9 272.8 581.6 258.2 C597.4 243.5 658.2 187.1 673.6 172.9" stroke="#2c2c2c" stroke-width="5" fill="none" stroke-linecap="butt" />
<path d="M522.7 410.5 L522.7 389.7 L522.7 389.7 C522.7 389.1 522.7 387.3 522.7 386.1 C522.8 384.9 522.8 383.7 522.9 382.5 C522.9 381.3 523 380.1 523.1 378.9 C523.1 377.7 523.2 376.5 523.3 375.3 C523.4 374.1 523.6 372.9 523.7 371.7 C523.8 370.5 524 369.3 524.1 368.1 C524.3 366.9 524.4 365.7 524.6 364.5 C524.8 363.3 525 362.1 525.2 360.9 C525.4 359.7 525.6 358.5 525.9 357.3 C526.1 356.1 526.4 354.9 526.6 353.7 C526.9 352.5 527.1 351.3 527.4 350.1 C527.7 348.9 528 347.7 528.3 346.5 C528.6 345.4 529 344.2 529.3 343 C529.6 341.8 530 340.6 530.3 339.5 C530.7 338.3 531.1 337.1 531.5 335.9 C531.8 334.8 532.2 333.6 532.7 332.4 C533.1 331.3 533.5 330.1 533.9 329 C534.4 327.8 534.8 326.6 535.3 325.5 C535.7 324.3 536.2 323.2 536.7 322.1 C537.2 320.9 537.7 319.8 538.2 318.7 C538.7 317.5 539.2 316.4 539.7 315.3 C540.2 314.1 540.8 313 541.3 311.9 C541.9 310.8 542.5 309.7 543 308.6 C543.6 307.5 544.2 306.4 544.8 305.3 C545.4 304.2 546 303.1 546.6 302 C547.3 301 547.9 299.9 548.5 298.8 C549.2 297.7 549.8 296.7 550.5 295.6 C551.2 294.6 551.9 293.5 552.5 292.5 C553.2 291.4 553.9 290.4 554.6 289.4 C555.3 288.3 556.1 287.3 556.8 286.3 C557.5 285.3 558.3 284.3 559 283.3 C559.8 282.3 560.5 281.3 561.3 280.3 C562.1 279.3 562.9 278.3 563.6 277.4 C564.4 276.4 565.2 275.4 566 274.5 C566.9 273.5 567.7 272.6 568.5 271.6 C569.3 270.7 570.2 269.7 571 268.8 C571.9 267.9 572.7 267 573.6 266.1 C574.5 265.2 575.3 264.3 576.2 263.4 C577.1 262.5 578 261.6 578.9 260.7 C579.8 259.9 565.9 272.8 581.6 258.2 C597.4 243.5 658.2 187.1 673.6 172.9" stroke="#fff" stroke-width="2" fill="none" stroke-linecap="butt" />
<path d="M552 407.9 L552 389.2 L552 389.2 C552 388.6 552 386.8 552 385.6 C552.1 384.4 552.1 383.2 552.2 381.9 C552.2 380.7 552.3 379.5 552.4 378.3 C552.4 377.1 552.5 375.9 552.6 374.7 C552.7 373.5 552.9 372.3 553 371.1 C553.1 369.9 553.3 368.7 553.4 367.5 C553.6 366.3 553.7 365.1 553.9 363.9 C554.1 362.7 554.3 361.5 554.5 360.3 C554.7 359.1 554.9 357.9 555.2 356.7 C555.4 355.5 555.7 354.3 555.9 353.1 C556.2 351.9 556.4 350.7 556.7 349.5 C557 348.3 557.3 347.1 557.6 346 C557.9 344.8 558.3 343.6 558.6 342.4 C558.9 341.2 559.3 340 559.6 338.9 C560 337.7 560.4 336.5 560.8 335.4 C561.1 334.2 561.5 333 562 331.9 C562.4 330.7 562.8 329.5 563.2 328.4 C563.7 327.2 564.1 326.1 564.6 324.9 C565 323.8 565.5 322.6 566 321.5 C566.5 320.3 567 319.2 567.5 318.1 C568 316.9 568.5 315.8 569 314.7 C569.5 313.6 570.1 312.4 570.6 311.3 C571.2 310.2 571.8 309.1 572.3 308 C572.9 306.9 573.5 305.8 574.1 304.7 C574.7 303.6 575.3 302.5 575.9 301.5 C576.6 300.4 577.2 299.3 577.8 298.2 C578.5 297.2 579.1 296.1 579.8 295 C580.5 294 581.2 292.9 581.8 291.9 C582.5 290.9 583.2 289.8 583.9 288.8 C584.6 287.8 585.4 286.7 586.1 285.7 C586.8 284.7 587.6 283.7 588.3 282.7 C589.1 281.7 589.8 280.7 590.6 279.7 C591.4 278.7 592.2 277.7 592.9 276.8 C593.7 275.8 594.5 274.8 595.3 273.9 C596.2 272.9 597 272 597.8 271 C598.6 270.1 599.5 269.2 600.3 268.2 C601.2 267.3 602 266.4 602.9 265.5 C603.8 264.6 604.6 263.7 605.5 262.8 C606.4 261.9 607.3 261 608.2 260.2 C609.1 259.3 595.2 272.2 610.9 257.6 C626.7 242.9 687.5 186.6 702.9 172.4" stroke="#2c2c2c" stroke-width="5" fill="none" stroke-linecap="butt" />
<path d="M552 407.9 L552 389.2 L552 389.2 C552 388.6 552 386.8 552 385.6 C552.1 384.4 552.1 383.2 552.2 381.9 C552.2 380.7 552.3 379.5 552.4 378.3 C552.4 377.1 552.5 375.9 552.6 374.7 C552.7 373.5 552.9 372.3 553 371.1 C553.1 369.9 553.3 368.7 553.4 367.5 C553.6 366.3 553.7 365.1 553.9 363.9 C554.1 362.7 554.3 361.5 554.5 360.3 C554.7 359.1 554.9 357.9 555.2 356.7 C555.4 355.5 555.7 354.3 555.9 353.1 C556.2 351.9 556.4 350.7 556.7 349.5 C557 348.3 557.3 347.1 557.6 346 C557.9 344.8 558.3 343.6 558.6 342.4 C558.9 341.2 559.3 340 559.6 338.9 C560 337.7 560.4 336.5 560.8 335.4 C561.1 334.2 561.5 333 562 331.9 C562.4 330.7 562.8 329.5 563.2 328.4 C563.7 327.2 564.1 326.1 564.6 324.9 C565 323.8 565.5 322.6 566 321.5 C566.5 320.3 567 319.2 567.5 318.1 C568 316.9 568.5 315.8 569 314.7 C569.5 313.6 570.1 312.4 570.6 311.3 C571.2 310.2 571.8 309.1 572.3 308 C572.9 306.9 573.5 305.8 574.1 304.7 C574.7 303.6 575.3 302.5 575.9 301.5 C576.6 300.4 577.2 299.3 577.8 298.2 C578.5 297.2 579.1 296.1 579.8 295 C580.5 294 581.2 292.9 581.8 291.9 C582.5 290.9 583.2 289.8 583.9 288.8 C584.6 287.8 585.4 286.7 586.1 285.7 C586.8 284.7 587.6 283.7 588.3 282.7 C589.1 281.7 589.8 280.7 590.6 279.7 C591.4 278.7 592.2 277.7 592.9 276.8 C593.7 275.8 594.5 274.8 595.3 273.9 C596.2 272.9 597 272 597.8 271 C598.6 270.1 599.5 269.2 600.3 268.2 C601.2 267.3 602 266.4 602.9 265.5 C603.8 264.6 604.6 263.7 605.5 262.8 C606.4 261.9 607.3 261 608.2 260.2 C609.1 259.3 595.2 272.2 610.9 257.6 C626.7 242.9 687.5 186.6 702.9 172.4" stroke="#fff" stroke-width="2" fill="none" stroke-linecap="butt" />
</g>
<clipPath id="latclip2"><path d="M186 308.8 C188.8 308.8 196.1 309.8 202.7 308.7 C209.3 307.6 217.8 304.9 225.4 301.9 C233 298.9 240.4 294.6 248 290.6 C255.6 286.6 263.1 282.5 270.7 278.1 C278.3 273.8 285.8 268.9 293.4 264.5 C300.9 260.1 308.4 255.8 316 252 C323.6 248.2 331.1 244.8 338.7 241.8 C346.3 238.8 353.8 236 361.4 233.9 C368.9 231.8 378.8 230.2 384 229.3 C389.2 228.4 386.2 228.4 392.4 228.6 C398.6 228.8 412.9 229.5 421.2 230.7 C429.4 231.9 435 233.7 441.9 235.9 C448.8 238.1 455.6 240.7 462.5 244.1 C469.4 247.5 476.1 252.7 483 256.5 C489.9 260.3 496.8 263.5 503.7 266.8 C510.6 270.1 517.4 273.4 524.3 276.1 C531.2 278.9 538.5 281.2 545 283.3 C551.5 285.4 560.4 287.6 563.5 288.4 L300 345 L206 345 L206 309 Z"/></clipPath>
<g clip-path="url(#latclip2)">
<path d="M160.8 397 C160.8 396.4 160.8 394.6 160.8 393.4 C160.9 392.2 160.9 391 161 389.8 C161 388.6 161.1 387.4 161.2 386.2 C161.2 385 161.3 383.8 161.4 382.5 C161.5 381.3 161.7 380.1 161.8 378.9 C161.9 377.7 162.1 376.5 162.2 375.3 C162.4 374.1 162.5 372.9 162.7 371.7 C162.9 370.5 163.1 369.3 163.3 368.1 C163.5 366.9 163.7 365.7 164 364.5 C164.2 363.3 164.5 362.1 164.7 360.9 C165 359.7 165.2 358.5 165.5 357.3 C165.8 356.2 166.1 355 166.4 353.8 C166.7 352.6 167.1 351.4 167.4 350.2 C167.7 349.1 168.1 347.9 168.4 346.7 C168.8 345.5 169.2 344.3 169.6 343.2 C169.9 342 170.3 340.8 170.8 339.7 C171.2 338.5 171.6 337.4 172 336.2 C172.5 335 172.9 333.9 173.4 332.7 C173.8 331.6 174.3 330.4 174.8 329.3 C175.3 328.2 175.8 327 176.3 325.9 C176.8 324.8 177.3 323.6 177.8 322.5 C178.3 321.4 178.9 320.3 179.4 319.2 C180 318 180.6 316.9 181.1 315.8 C181.7 314.7 182.3 313.6 182.9 312.5 C183.5 311.4 184.1 310.4 184.7 309.3 C185.4 308.2 186 307.1 186.6 306.1 C187.3 305 187.9 303.9 188.6 302.9 C189.3 301.8 190 300.8 190.6 299.7 C191.3 298.7 192 297.6 192.7 296.6 C193.4 295.6 194.2 294.6 194.9 293.5 C195.6 292.5 196.4 291.5 197.1 290.5 C197.9 289.5 198.6 288.5 199.4 287.5 C200.2 286.5 201 285.6 201.7 284.6 C202.5 283.6 203.3 282.7 204.1 281.7 C205 280.7 205.8 279.8 206.6 278.9 C207.4 277.9 208.3 277 209.1 276.1 C210 275.1 210.8 274.2 211.7 273.3 C212.6 272.4 213.4 271.5 214.3 270.6 C215.2 269.7 216.1 268.9 217 268 C217.9 267.1 204 280 219.7 265.4 C235.5 250.8 296.3 194.4 311.7 180.2" stroke="#2c2c2c" stroke-width="5" fill="none" stroke-linecap="butt" />
<path d="M160.8 397 C160.8 396.4 160.8 394.6 160.8 393.4 C160.9 392.2 160.9 391 161 389.8 C161 388.6 161.1 387.4 161.2 386.2 C161.2 385 161.3 383.8 161.4 382.5 C161.5 381.3 161.7 380.1 161.8 378.9 C161.9 377.7 162.1 376.5 162.2 375.3 C162.4 374.1 162.5 372.9 162.7 371.7 C162.9 370.5 163.1 369.3 163.3 368.1 C163.5 366.9 163.7 365.7 164 364.5 C164.2 363.3 164.5 362.1 164.7 360.9 C165 359.7 165.2 358.5 165.5 357.3 C165.8 356.2 166.1 355 166.4 353.8 C166.7 352.6 167.1 351.4 167.4 350.2 C167.7 349.1 168.1 347.9 168.4 346.7 C168.8 345.5 169.2 344.3 169.6 343.2 C169.9 342 170.3 340.8 170.8 339.7 C171.2 338.5 171.6 337.4 172 336.2 C172.5 335 172.9 333.9 173.4 332.7 C173.8 331.6 174.3 330.4 174.8 329.3 C175.3 328.2 175.8 327 176.3 325.9 C176.8 324.8 177.3 323.6 177.8 322.5 C178.3 321.4 178.9 320.3 179.4 319.2 C180 318 180.6 316.9 181.1 315.8 C181.7 314.7 182.3 313.6 182.9 312.5 C183.5 311.4 184.1 310.4 184.7 309.3 C185.4 308.2 186 307.1 186.6 306.1 C187.3 305 187.9 303.9 188.6 302.9 C189.3 301.8 190 300.8 190.6 299.7 C191.3 298.7 192 297.6 192.7 296.6 C193.4 295.6 194.2 294.6 194.9 293.5 C195.6 292.5 196.4 291.5 197.1 290.5 C197.9 289.5 198.6 288.5 199.4 287.5 C200.2 286.5 201 285.6 201.7 284.6 C202.5 283.6 203.3 282.7 204.1 281.7 C205 280.7 205.8 279.8 206.6 278.9 C207.4 277.9 208.3 277 209.1 276.1 C210 275.1 210.8 274.2 211.7 273.3 C212.6 272.4 213.4 271.5 214.3 270.6 C215.2 269.7 216.1 268.9 217 268 C217.9 267.1 204 280 219.7 265.4 C235.5 250.8 296.3 194.4 311.7 180.2" stroke="#fff" stroke-width="2" fill="none" stroke-linecap="butt" />
<path d="M196.7 396.3 C196.7 395.7 196.7 393.9 196.7 392.7 C196.8 391.5 196.8 390.3 196.9 389.1 C196.9 387.9 197 386.6 197.1 385.4 C197.1 384.2 197.2 383 197.3 381.8 C197.4 380.6 197.6 379.4 197.7 378.2 C197.8 377 198 375.8 198.1 374.6 C198.3 373.4 198.4 372.2 198.6 371 C198.8 369.8 199 368.6 199.2 367.4 C199.4 366.2 199.6 365 199.9 363.8 C200.1 362.6 200.4 361.4 200.6 360.2 C200.9 359 201.1 357.8 201.4 356.6 C201.7 355.4 202 354.3 202.3 353.1 C202.6 351.9 203 350.7 203.3 349.5 C203.6 348.3 204 347.2 204.3 346 C204.7 344.8 205.1 343.6 205.5 342.5 C205.8 341.3 206.2 340.1 206.7 339 C207.1 337.8 207.5 336.6 207.9 335.5 C208.4 334.3 208.8 333.2 209.3 332 C209.7 330.9 210.2 329.7 210.7 328.6 C211.2 327.4 211.7 326.3 212.2 325.2 C212.7 324 213.2 322.9 213.7 321.8 C214.2 320.7 214.8 319.5 215.3 318.4 C215.9 317.3 216.5 316.2 217 315.1 C217.6 314 218.2 312.9 218.8 311.8 C219.4 310.7 220 309.6 220.6 308.6 C221.3 307.5 221.9 306.4 222.5 305.3 C223.2 304.3 223.8 303.2 224.5 302.1 C225.2 301.1 225.9 300 226.5 299 C227.2 298 227.9 296.9 228.6 295.9 C229.3 294.9 230.1 293.8 230.8 292.8 C231.5 291.8 232.3 290.8 233 289.8 C233.8 288.8 234.5 287.8 235.3 286.8 C236.1 285.8 236.9 284.8 237.6 283.9 C238.4 282.9 239.2 281.9 240 281 C240.9 280 241.7 279.1 242.5 278.1 C243.3 277.2 244.2 276.3 245 275.3 C245.9 274.4 246.7 273.5 247.6 272.6 C248.5 271.7 249.3 270.8 250.2 269.9 C251.1 269 252 268.1 252.9 267.3 C253.8 266.4 239.9 279.3 255.6 264.7 C271.4 250 332.2 193.7 347.6 179.5" stroke="#2c2c2c" stroke-width="5" fill="none" stroke-linecap="butt" />
<path d="M196.7 396.3 C196.7 395.7 196.7 393.9 196.7 392.7 C196.8 391.5 196.8 390.3 196.9 389.1 C196.9 387.9 197 386.6 197.1 385.4 C197.1 384.2 197.2 383 197.3 381.8 C197.4 380.6 197.6 379.4 197.7 378.2 C197.8 377 198 375.8 198.1 374.6 C198.3 373.4 198.4 372.2 198.6 371 C198.8 369.8 199 368.6 199.2 367.4 C199.4 366.2 199.6 365 199.9 363.8 C200.1 362.6 200.4 361.4 200.6 360.2 C200.9 359 201.1 357.8 201.4 356.6 C201.7 355.4 202 354.3 202.3 353.1 C202.6 351.9 203 350.7 203.3 349.5 C203.6 348.3 204 347.2 204.3 346 C204.7 344.8 205.1 343.6 205.5 342.5 C205.8 341.3 206.2 340.1 206.7 339 C207.1 337.8 207.5 336.6 207.9 335.5 C208.4 334.3 208.8 333.2 209.3 332 C209.7 330.9 210.2 329.7 210.7 328.6 C211.2 327.4 211.7 326.3 212.2 325.2 C212.7 324 213.2 322.9 213.7 321.8 C214.2 320.7 214.8 319.5 215.3 318.4 C215.9 317.3 216.5 316.2 217 315.1 C217.6 314 218.2 312.9 218.8 311.8 C219.4 310.7 220 309.6 220.6 308.6 C221.3 307.5 221.9 306.4 222.5 305.3 C223.2 304.3 223.8 303.2 224.5 302.1 C225.2 301.1 225.9 300 226.5 299 C227.2 298 227.9 296.9 228.6 295.9 C229.3 294.9 230.1 293.8 230.8 292.8 C231.5 291.8 232.3 290.8 233 289.8 C233.8 288.8 234.5 287.8 235.3 286.8 C236.1 285.8 236.9 284.8 237.6 283.9 C238.4 282.9 239.2 281.9 240 281 C240.9 280 241.7 279.1 242.5 278.1 C243.3 277.2 244.2 276.3 245 275.3 C245.9 274.4 246.7 273.5 247.6 272.6 C248.5 271.7 249.3 270.8 250.2 269.9 C251.1 269 252 268.1 252.9 267.3 C253.8 266.4 239.9 279.3 255.6 264.7 C271.4 250 332.2 193.7 347.6 179.5" stroke="#fff" stroke-width="2" fill="none" stroke-linecap="butt" />
<path d="M232 395.6 C232 395 232 393.2 232 392 C232.1 390.8 232.1 389.6 232.2 388.3 C232.2 387.1 232.3 385.9 232.4 384.7 C232.4 383.5 232.5 382.3 232.6 381.1 C232.7 379.9 232.9 378.7 233 377.5 C233.1 376.3 233.3 375.1 233.4 373.9 C233.6 372.7 233.7 371.5 233.9 370.3 C234.1 369.1 234.3 367.9 234.5 366.7 C234.7 365.5 234.9 364.3 235.2 363.1 C235.4 361.9 235.7 360.7 235.9 359.5 C236.2 358.3 236.4 357.1 236.7 355.9 C237 354.7 237.3 353.5 237.6 352.4 C237.9 351.2 238.3 350 238.6 348.8 C238.9 347.6 239.3 346.4 239.6 345.3 C240 344.1 240.4 342.9 240.8 341.8 C241.1 340.6 241.5 339.4 242 338.3 C242.4 337.1 242.8 335.9 243.2 334.8 C243.7 333.6 244.1 332.5 244.6 331.3 C245 330.2 245.5 329 246 327.9 C246.5 326.7 247 325.6 247.5 324.5 C248 323.3 248.5 322.2 249 321.1 C249.5 320 250.1 318.8 250.6 317.7 C251.2 316.6 251.8 315.5 252.3 314.4 C252.9 313.3 253.5 312.2 254.1 311.1 C254.7 310 255.3 308.9 255.9 307.9 C256.6 306.8 257.2 305.7 257.8 304.6 C258.5 303.6 259.1 302.5 259.8 301.4 C260.5 300.4 261.2 299.3 261.8 298.3 C262.5 297.3 263.2 296.2 263.9 295.2 C264.6 294.2 265.4 293.1 266.1 292.1 C266.8 291.1 267.6 290.1 268.3 289.1 C269.1 288.1 269.8 287.1 270.6 286.1 C271.4 285.1 272.2 284.1 272.9 283.2 C273.7 282.2 274.5 281.2 275.3 280.3 C276.2 279.3 277 278.4 277.8 277.4 C278.6 276.5 279.5 275.6 280.3 274.6 C281.2 273.7 282 272.8 282.9 271.9 C283.8 271 284.6 270.1 285.5 269.2 C286.4 268.3 287.3 267.4 288.2 266.6 C289.1 265.7 275.2 278.6 290.9 264 C306.7 249.3 367.5 193 382.9 178.8" stroke="#2c2c2c" stroke-width="5" fill="none" stroke-linecap="butt" />
<path d="M232 395.6 C232 395 232 393.2 232 392 C232.1 390.8 232.1 389.6 232.2 388.3 C232.2 387.1 232.3 385.9 232.4 384.7 C232.4 383.5 232.5 382.3 232.6 381.1 C232.7 379.9 232.9 378.7 233 377.5 C233.1 376.3 233.3 375.1 233.4 373.9 C233.6 372.7 233.7 371.5 233.9 370.3 C234.1 369.1 234.3 367.9 234.5 366.7 C234.7 365.5 234.9 364.3 235.2 363.1 C235.4 361.9 235.7 360.7 235.9 359.5 C236.2 358.3 236.4 357.1 236.7 355.9 C237 354.7 237.3 353.5 237.6 352.4 C237.9 351.2 238.3 350 238.6 348.8 C238.9 347.6 239.3 346.4 239.6 345.3 C240 344.1 240.4 342.9 240.8 341.8 C241.1 340.6 241.5 339.4 242 338.3 C242.4 337.1 242.8 335.9 243.2 334.8 C243.7 333.6 244.1 332.5 244.6 331.3 C245 330.2 245.5 329 246 327.9 C246.5 326.7 247 325.6 247.5 324.5 C248 323.3 248.5 322.2 249 321.1 C249.5 320 250.1 318.8 250.6 317.7 C251.2 316.6 251.8 315.5 252.3 314.4 C252.9 313.3 253.5 312.2 254.1 311.1 C254.7 310 255.3 308.9 255.9 307.9 C256.6 306.8 257.2 305.7 257.8 304.6 C258.5 303.6 259.1 302.5 259.8 301.4 C260.5 300.4 261.2 299.3 261.8 298.3 C262.5 297.3 263.2 296.2 263.9 295.2 C264.6 294.2 265.4 293.1 266.1 292.1 C266.8 291.1 267.6 290.1 268.3 289.1 C269.1 288.1 269.8 287.1 270.6 286.1 C271.4 285.1 272.2 284.1 272.9 283.2 C273.7 282.2 274.5 281.2 275.3 280.3 C276.2 279.3 277 278.4 277.8 277.4 C278.6 276.5 279.5 275.6 280.3 274.6 C281.2 273.7 282 272.8 282.9 271.9 C283.8 271 284.6 270.1 285.5 269.2 C286.4 268.3 287.3 267.4 288.2 266.6 C289.1 265.7 275.2 278.6 290.9 264 C306.7 249.3 367.5 193 382.9 178.8" stroke="#fff" stroke-width="2" fill="none" stroke-linecap="butt" />
</g>
<path d="M186 308.8 C188.8 308.8 196.1 309.8 202.7 308.7 C209.3 307.6 217.8 304.9 225.4 301.9 C233 298.9 240.4 294.6 248 290.6 C255.6 286.6 263.1 282.5 270.7 278.1 C278.3 273.8 285.8 268.9 293.4 264.5 C300.9 260.1 308.4 255.8 316 252 C323.6 248.2 331.1 244.8 338.7 241.8 C346.3 238.8 353.8 236 361.4 233.9 C368.9 231.8 378.8 230.2 384 229.3 C389.2 228.4 386.2 228.4 392.4 228.6 C398.6 228.8 412.9 229.5 421.2 230.7 C429.4 231.9 435 233.7 441.9 235.9 C448.8 238.1 455.6 240.7 462.5 244.1 C469.4 247.5 476.1 252.7 483 256.5 C489.9 260.3 496.8 263.5 503.7 266.8 C510.6 270.1 517.4 273.4 524.3 276.1 C531.2 278.9 538.5 281.2 545 283.3 C551.5 285.4 560.4 287.6 563.5 288.4" stroke="#2c2c2c" stroke-width="5.8" fill="none" stroke-linecap="butt" />
<path d="M186 308.8 C188.8 308.8 196.1 309.8 202.7 308.7 C209.3 307.6 217.8 304.9 225.4 301.9 C233 298.9 240.4 294.6 248 290.6 C255.6 286.6 263.1 282.5 270.7 278.1 C278.3 273.8 285.8 268.9 293.4 264.5 C300.9 260.1 308.4 255.8 316 252 C323.6 248.2 331.1 244.8 338.7 241.8 C346.3 238.8 353.8 236 361.4 233.9 C368.9 231.8 378.8 230.2 384 229.3 C389.2 228.4 386.2 228.4 392.4 228.6 C398.6 228.8 412.9 229.5 421.2 230.7 C429.4 231.9 435 233.7 441.9 235.9 C448.8 238.1 455.6 240.7 462.5 244.1 C469.4 247.5 476.1 252.7 483 256.5 C489.9 260.3 496.8 263.5 503.7 266.8 C510.6 270.1 517.4 273.4 524.3 276.1 C531.2 278.9 538.5 281.2 545 283.3 C551.5 285.4 560.4 287.6 563.5 288.4" stroke="#fff" stroke-width="2.8" fill="none" stroke-linecap="butt" />
<path d="M222 435.6 L565 406.2" stroke="#2c2c2c" stroke-width="5.8" fill="none" stroke-linecap="butt" />
<path d="M222 435.6 L565 406.2" stroke="#fff" stroke-width="3" fill="none" stroke-linecap="butt" />
<path d="M566 287 C565.2 289.7 562.3 295.8 561 303 C559.7 310.2 558.6 318.3 558 330 C557.4 341.7 557.3 359.8 557.5 373 C557.7 386.2 558.8 403.3 559 409.3" stroke="#2c2c2c" stroke-width="5.7" fill="none" stroke-linecap="butt" />
<path d="M566 287 C565.2 289.7 562.3 295.8 561 303 C559.7 310.2 558.6 318.3 558 330 C557.4 341.7 557.3 359.8 557.5 373 C557.7 386.2 558.8 403.3 559 409.3" stroke="#fff" stroke-width="2.9" fill="none" stroke-linecap="butt" />
<path d="M222 438.2 L565 408.8 L563.2 413.6 L222 444.2 Z" fill="#fff" stroke="#1e1e1e" stroke-width="1.1"/>
<path d="M222 444.2 L563.2 413.6 L660.7 427.4 L306 467 Z" fill="#fff" stroke="#1e1e1e" stroke-width="1.1"/>
<path d="M229.6 446.3 L572.1 414.9" stroke="#1e1e1e" stroke-width="0.9" fill="none" />
<path d="M237.3 448.3 L580.9 416.1" stroke="#1e1e1e" stroke-width="0.9" fill="none" />
<path d="M244.9 450.4 L589.8 417.4" stroke="#1e1e1e" stroke-width="0.9" fill="none" />
<path d="M252.5 452.5 L598.7 418.6" stroke="#1e1e1e" stroke-width="0.9" fill="none" />
<path d="M260.2 454.6 L607.5 419.9" stroke="#1e1e1e" stroke-width="0.9" fill="none" />
<path d="M267.8 456.6 L616.4 421.1" stroke="#1e1e1e" stroke-width="0.9" fill="none" />
<path d="M275.5 458.7 L625.2 422.4" stroke="#1e1e1e" stroke-width="0.9" fill="none" />
<path d="M283.1 460.8 L634.1 423.6" stroke="#1e1e1e" stroke-width="0.9" fill="none" />
<path d="M290.7 462.9 L643 424.9" stroke="#1e1e1e" stroke-width="0.9" fill="none" />
<path d="M298.4 464.9 L651.8 426.1" stroke="#1e1e1e" stroke-width="0.9" fill="none" />
<path d="M306 467 L660.7 427.4 L660.7 439 L306 478.5 Z" fill="#fff" stroke="#1e1e1e" stroke-width="1.1"/>
<path d="M218.5 448 L299 464.5 L299 474.8 L218.5 454.5 Z" fill="#fff" stroke="#1e1e1e" stroke-width="1.1"/>
<path d="M223.5 459.5 L299 478.3" stroke="#1e1e1e" stroke-width="1" fill="none" />
<path d="M652 438 L663 436.5 L663 440 L652 442 Z" fill="#fff" stroke="#1e1e1e" stroke-width="1"/>
<ellipse cx="656" cy="443.5" rx="3" ry="2.5" fill="#fff" stroke="#1e1e1e" stroke-width="1"/>
<rect x="399.5" y="425.2" width="11" height="5.5" rx="2.5" fill="#fff" stroke="#1e1e1e" stroke-width="1"/>
<rect x="526.5" y="411.2" width="11" height="5.5" rx="2.5" fill="#fff" stroke="#1e1e1e" stroke-width="1"/>
<rect x="262.5" y="437.8" width="11" height="5.5" rx="2.5" fill="#fff" stroke="#1e1e1e" stroke-width="1"/>
<ellipse cx="316" cy="482.5" rx="3.5" ry="3" fill="#fff" stroke="#1e1e1e" stroke-width="1"/>
<path d="M217.5 456 L219 620" stroke="#2c2c2c" stroke-width="7.2" fill="none" stroke-linecap="butt" />
<path d="M217.5 456 L219 620" stroke="#fff" stroke-width="4.4" fill="none" stroke-linecap="butt" />
<path d="M212 620.5 v2 a7 3 0 0 0 14 0 v-2" fill="#fff" stroke="#1e1e1e" stroke-width="1.1"/>
<ellipse cx="219" cy="620.5" rx="7" ry="3" fill="#fff" stroke="#1e1e1e" stroke-width="1.1"/>
<path d="M568.3 449 L568.3 566.5" stroke="#2c2c2c" stroke-width="6.4" fill="none" stroke-linecap="butt" />
<path d="M568.3 449 L568.3 566.5" stroke="#fff" stroke-width="3.6" fill="none" stroke-linecap="butt" />
<path d="M562.5 566.5 v2 a5.8 2.6 0 0 0 11.6 0 v-2" fill="#fff" stroke="#1e1e1e" stroke-width="1.1"/>
<ellipse cx="568.3" cy="566.5" rx="5.8" ry="2.6" fill="#fff" stroke="#1e1e1e" stroke-width="1.1"/>
<path d="M272 584 L406.6 469.5" stroke="#2c2c2c" stroke-width="4.8" fill="none" stroke-linecap="butt" />
<path d="M272 584 L406.6 469.5" stroke="#fff" stroke-width="2" fill="none" stroke-linecap="butt" />
<ellipse cx="273" cy="581" rx="3" ry="4" fill="#fff" stroke="#1e1e1e" stroke-width="1"/>
<path d="M481 459.5 L600 529 L610 531" stroke="#2c2c2c" stroke-width="4.6" fill="none" stroke-linecap="butt" />
<path d="M481 459.5 L600 529 L610 531" stroke="#fff" stroke-width="1.8" fill="none" stroke-linecap="butt" />
<ellipse cx="605" cy="533" rx="3" ry="2.5" fill="#fff" stroke="#1e1e1e" stroke-width="1"/>
<path d="M217.8 558 L300 591" stroke="#2c2c2c" stroke-width="6.7" fill="none" stroke-linecap="round" />
<path d="M217.8 558 L300 591" stroke="#fff" stroke-width="3.9" fill="none" stroke-linecap="round" />
<path d="M571 512 L660.3 536.4" stroke="#2c2c2c" stroke-width="5.4" fill="none" stroke-linecap="butt" />
<path d="M571 512 L660.3 536.4" stroke="#fff" stroke-width="2.6" fill="none" stroke-linecap="butt" />
<path d="M304 478.5 L305.5 654" stroke="#2c2c2c" stroke-width="8.2" fill="none" stroke-linecap="butt" />
<path d="M304 478.5 L305.5 654" stroke="#fff" stroke-width="5.4" fill="none" stroke-linecap="butt" />
<path d="M297.5 654.5 v2 a7.5 3.2 0 0 0 15 0 v-2" fill="#fff" stroke="#1e1e1e" stroke-width="1.1"/>
<ellipse cx="305" cy="654.5" rx="7.5" ry="3.2" fill="#fff" stroke="#1e1e1e" stroke-width="1.1"/>
<path d="M663 439.5 L663.3 595" stroke="#2c2c2c" stroke-width="6.7" fill="none" stroke-linecap="butt" />
<path d="M663 439.5 L663.3 595" stroke="#fff" stroke-width="3.9" fill="none" stroke-linecap="butt" />
<path d="M657.5 595.5 v2 a6 2.8 0 0 0 12 0 v-2" fill="#fff" stroke="#1e1e1e" stroke-width="1.1"/>
<ellipse cx="663.5" cy="595.5" rx="6" ry="2.8" fill="#fff" stroke="#1e1e1e" stroke-width="1.1"/>
<path d="M219.5 360 L221.5 434 L300 426" stroke="#1e1e1e" stroke-width="1" fill="none" />
<path d="M223.5 385 L225 438.5 L300 430.5" stroke="#1e1e1e" stroke-width="1" fill="none" />
<path d="M184 307 C186.2 308.2 193.5 310.7 197 314 C200.5 317.3 202.8 321.3 205 327 C207.2 332.7 208.6 338.3 210 348 C211.4 357.7 212.5 372.2 213.5 385 C214.5 397.8 215.3 413.8 216 425 C216.7 436.2 217.2 447.5 217.5 452" stroke="#2c2c2c" stroke-width="6.2" fill="none" stroke-linecap="butt" />
<path d="M184 307 C186.2 308.2 193.5 310.7 197 314 C200.5 317.3 202.8 321.3 205 327 C207.2 332.7 208.6 338.3 210 348 C211.4 357.7 212.5 372.2 213.5 385 C214.5 397.8 215.3 413.8 216 425 C216.7 436.2 217.2 447.5 217.5 452" stroke="#fff" stroke-width="3.4" fill="none" stroke-linecap="butt" />
<path d="M205.6 317.4 C208 322.2 216 334.3 220.2 346 C224.4 357.7 228.4 375.2 230.7 387.5 C233 399.8 233.4 409.2 234.2 420 C234.9 430.8 235 446.7 235.2 452" stroke="#2c2c2c" stroke-width="3.6" fill="none" stroke-linecap="butt" />
<path d="M205.6 317.4 C208 322.2 216 334.3 220.2 346 C224.4 357.7 228.4 375.2 230.7 387.5 C233 399.8 233.4 409.2 234.2 420 C234.9 430.8 235 446.7 235.2 452" stroke="#fff" stroke-width="1.5" fill="none" stroke-linecap="butt" />
<path d="M209.2 317.4 C211.6 322.2 219.6 334.3 223.8 346 C228 357.7 232 375.2 234.3 387.5 C236.6 399.8 237.1 409.2 237.8 420 C238.6 430.8 238.6 446.7 238.8 452" stroke="#2c2c2c" stroke-width="3.6" fill="none" stroke-linecap="butt" />
<path d="M209.2 317.4 C211.6 322.2 219.6 334.3 223.8 346 C228 357.7 232 375.2 234.3 387.5 C236.6 399.8 237.1 409.2 237.8 420 C238.6 430.8 238.6 446.7 238.8 452" stroke="#fff" stroke-width="1.5" fill="none" stroke-linecap="butt" />
<path d="M215.9 319.4 C218.9 323.8 228.6 336.4 234.2 346 C239.8 355.6 245.8 366.7 249.2 377 C252.6 387.3 253.7 395 254.7 408 C255.7 421 255.1 447.2 255.2 455" stroke="#2c2c2c" stroke-width="3.6" fill="none" stroke-linecap="butt" />
<path d="M215.9 319.4 C218.9 323.8 228.6 336.4 234.2 346 C239.8 355.6 245.8 366.7 249.2 377 C252.6 387.3 253.7 395 254.7 408 C255.7 421 255.1 447.2 255.2 455" stroke="#fff" stroke-width="1.5" fill="none" stroke-linecap="butt" />
<path d="M219.5 319.4 C222.6 323.8 232.2 336.4 237.8 346 C243.4 355.6 249.4 366.7 252.8 377 C256.2 387.3 257.3 395 258.3 408 C259.3 421 258.7 447.2 258.8 455" stroke="#2c2c2c" stroke-width="3.6" fill="none" stroke-linecap="butt" />
<path d="M219.5 319.4 C222.6 323.8 232.2 336.4 237.8 346 C243.4 355.6 249.4 366.7 252.8 377 C256.2 387.3 257.3 395 258.3 408 C259.3 421 258.7 447.2 258.8 455" stroke="#fff" stroke-width="1.5" fill="none" stroke-linecap="butt" />
<path d="M226.2 321.5 C229.3 323.9 238.5 330.2 244.7 336 C250.9 341.8 258.3 347.9 263.2 356.5 C268.1 365.1 271.9 370.4 274.2 387.5 C276.5 404.6 276.7 447.1 277.2 459" stroke="#2c2c2c" stroke-width="3.6" fill="none" stroke-linecap="butt" />
<path d="M226.2 321.5 C229.3 323.9 238.5 330.2 244.7 336 C250.9 341.8 258.3 347.9 263.2 356.5 C268.1 365.1 271.9 370.4 274.2 387.5 C276.5 404.6 276.7 447.1 277.2 459" stroke="#fff" stroke-width="1.5" fill="none" stroke-linecap="butt" />
<path d="M229.8 321.5 C232.9 323.9 242.1 330.2 248.3 336 C254.5 341.8 261.9 347.9 266.8 356.5 C271.7 365.1 275.5 370.4 277.8 387.5 C280.1 404.6 280.3 447.1 280.8 459" stroke="#2c2c2c" stroke-width="3.6" fill="none" stroke-linecap="butt" />
<path d="M229.8 321.5 C232.9 323.9 242.1 330.2 248.3 336 C254.5 341.8 261.9 347.9 266.8 356.5 C271.7 365.1 275.5 370.4 277.8 387.5 C280.1 404.6 280.3 447.1 280.8 459" stroke="#fff" stroke-width="1.5" fill="none" stroke-linecap="butt" />
<path d="M176 305.5 L270 325.5" stroke="#2c2c2c" stroke-width="5.8" fill="none" stroke-linecap="butt" />
<path d="M176 305.5 L270 325.5" stroke="#fff" stroke-width="3" fill="none" stroke-linecap="butt" />
<path d="M180 305.3 C179.4 305.2 179 304.5 176.5 305 C174 305.5 168 306.8 165 308.5 C162 310.2 159.9 312.9 158.5 315.5 C157.1 318.1 156.6 321.1 156.7 324.2 C156.8 327.3 157.7 331.4 159 334 C160.3 336.6 162.6 338.7 164.5 340 C166.4 341.3 168.3 341.7 170.3 341.6 C172.3 341.5 174.8 340.8 176.5 339.5 C178.2 338.2 179.7 335.9 180.3 334 C180.9 332.1 180.8 329.5 180.3 328 C179.8 326.5 178.6 325.2 177.5 324.8 C176.4 324.4 174.8 324.9 174 325.5 C173.2 326.1 173 328 172.8 328.5" stroke="#2c2c2c" stroke-width="5.4" fill="none" stroke-linecap="round" />
<path d="M180 305.3 C179.4 305.2 179 304.5 176.5 305 C174 305.5 168 306.8 165 308.5 C162 310.2 159.9 312.9 158.5 315.5 C157.1 318.1 156.6 321.1 156.7 324.2 C156.8 327.3 157.7 331.4 159 334 C160.3 336.6 162.6 338.7 164.5 340 C166.4 341.3 168.3 341.7 170.3 341.6 C172.3 341.5 174.8 340.8 176.5 339.5 C178.2 338.2 179.7 335.9 180.3 334 C180.9 332.1 180.8 329.5 180.3 328 C179.8 326.5 178.6 325.2 177.5 324.8 C176.4 324.4 174.8 324.9 174 325.5 C173.2 326.1 173 328 172.8 328.5" stroke="#fff" stroke-width="2.6" fill="none" stroke-linecap="round" />
<circle cx="174.5" cy="327.5" r="2.2" fill="#fff" stroke="#1e1e1e" stroke-width="1"/>
<path d="M266 325 C269 325.7 279.3 326.7 284 329 C288.7 331.3 291.5 334.4 294 338.7 C296.5 343 298 348.1 299 355 C300 361.9 299.7 359.8 299.8 380 C299.9 400.2 299.8 460 299.8 476" stroke="#2c2c2c" stroke-width="5.8" fill="none" stroke-linecap="butt" />
<path d="M266 325 C269 325.7 279.3 326.7 284 329 C288.7 331.3 291.5 334.4 294 338.7 C296.5 343 298 348.1 299 355 C300 361.9 299.7 359.8 299.8 380 C299.9 400.2 299.8 460 299.8 476" stroke="#fff" stroke-width="3" fill="none" stroke-linecap="butt" />
<path d="M272 325 C270.3 325.1 265.2 324.7 262 325.5 C258.8 326.3 255.4 328 253 330 C250.6 332 248.6 334.7 247.5 337.5 C246.4 340.3 246.1 343.8 246.3 347 C246.6 350.2 247.7 354.1 249 356.5 C250.3 358.9 252.2 360.3 254 361.5 C255.8 362.7 257.9 363.5 259.9 363.5 C261.9 363.5 264.3 362.6 266 361.5 C267.7 360.4 269.2 358.6 270 357 C270.8 355.4 270.8 353.4 270.5 352 C270.2 350.6 269 349.1 268 348.5 C267 347.9 265.2 348.1 264.5 348.5 C263.8 348.9 263.9 350.6 263.8 351" stroke="#2c2c2c" stroke-width="5.8" fill="none" stroke-linecap="round" />
<path d="M272 325 C270.3 325.1 265.2 324.7 262 325.5 C258.8 326.3 255.4 328 253 330 C250.6 332 248.6 334.7 247.5 337.5 C246.4 340.3 246.1 343.8 246.3 347 C246.6 350.2 247.7 354.1 249 356.5 C250.3 358.9 252.2 360.3 254 361.5 C255.8 362.7 257.9 363.5 259.9 363.5 C261.9 363.5 264.3 362.6 266 361.5 C267.7 360.4 269.2 358.6 270 357 C270.8 355.4 270.8 353.4 270.5 352 C270.2 350.6 269 349.1 268 348.5 C267 347.9 265.2 348.1 264.5 348.5 C263.8 348.9 263.9 350.6 263.8 351" stroke="#fff" stroke-width="3" fill="none" stroke-linecap="round" />
<circle cx="266" cy="350" r="2.6" fill="#fff" stroke="#1e1e1e" stroke-width="1"/>
<path d="M583 283.5 C581.3 284.6 575.4 286.4 573 290 C570.6 293.6 569.4 296.7 568.5 305 C567.6 313.3 567.7 327.5 567.5 340 C567.3 352.5 567.5 367.8 567.5 380 C567.5 392.2 567.5 407.5 567.5 413" stroke="#2c2c2c" stroke-width="5.2" fill="none" stroke-linecap="butt" />
<path d="M583 283.5 C581.3 284.6 575.4 286.4 573 290 C570.6 293.6 569.4 296.7 568.5 305 C567.6 313.3 567.7 327.5 567.5 340 C567.3 352.5 567.5 367.8 567.5 380 C567.5 392.2 567.5 407.5 567.5 413" stroke="#fff" stroke-width="2.4" fill="none" stroke-linecap="butt" />
<path d="M593 299.5 C592 299.4 588.8 298.5 587 299 C585.2 299.5 583.3 301 582.5 302.5 C581.7 304 581.5 306.3 582 308 C582.5 309.7 584.2 311.8 585.5 312.5 C586.8 313.2 588.9 312.9 590 312 C591.1 311.1 592.1 308.3 592 307 C591.9 305.7 590.4 304.2 589.5 304 C588.6 303.8 587 305.7 586.5 306" stroke="#2c2c2c" stroke-width="3.6" fill="none" stroke-linecap="round" />
<path d="M593 299.5 C592 299.4 588.8 298.5 587 299 C585.2 299.5 583.3 301 582.5 302.5 C581.7 304 581.5 306.3 582 308 C582.5 309.7 584.2 311.8 585.5 312.5 C586.8 313.2 588.9 312.9 590 312 C591.1 311.1 592.1 308.3 592 307 C591.9 305.7 590.4 304.2 589.5 304 C588.6 303.8 587 305.7 586.5 306" stroke="#fff" stroke-width="0.8" fill="none" stroke-linecap="round" />
<path d="M588.4 416.4 C588.4 410.4 588.2 392.7 588.4 380 C588.6 367.3 588.6 351 589.4 340 C590.2 329 591.6 320.9 593.4 313.8 C595.2 306.8 597.9 301.3 600.4 297.8 C602.9 294.3 606.2 293.5 608.4 292.8 C610.6 292.2 612.3 293 613.4 293.8 C614.5 294.7 614.6 297.2 614.9 297.8" stroke="#2c2c2c" stroke-width="2.9" fill="none" stroke-linecap="butt" />
<path d="M588.4 416.4 C588.4 410.4 588.2 392.7 588.4 380 C588.6 367.3 588.6 351 589.4 340 C590.2 329 591.6 320.9 593.4 313.8 C595.2 306.8 597.9 301.3 600.4 297.8 C602.9 294.3 606.2 293.5 608.4 292.8 C610.6 292.2 612.3 293 613.4 293.8 C614.5 294.7 614.6 297.2 614.9 297.8" stroke="#fff" stroke-width="1.1" fill="none" stroke-linecap="butt" />
<path d="M591 416.8 C591 410.7 590.8 392.8 591 380 C591.2 367.2 591.2 351 592 340 C592.8 329 594 321.1 596 314.1 C598 307.1 601.2 301.6 604 298.1 C606.8 294.6 610.2 293.8 612.5 293.1 C614.8 292.4 616.4 293.3 617.5 294.1 C618.6 294.9 618.8 297.4 619 298.1" stroke="#2c2c2c" stroke-width="2.9" fill="none" stroke-linecap="butt" />
<path d="M591 416.8 C591 410.7 590.8 392.8 591 380 C591.2 367.2 591.2 351 592 340 C592.8 329 594 321.1 596 314.1 C598 307.1 601.2 301.6 604 298.1 C606.8 294.6 610.2 293.8 612.5 293.1 C614.8 292.4 616.4 293.3 617.5 294.1 C618.6 294.9 618.8 297.4 619 298.1" stroke="#fff" stroke-width="1.1" fill="none" stroke-linecap="butt" />
<path d="M593.6 417.2 C593.6 411 593.4 392.9 593.6 380 C593.8 367.1 593.8 350.9 594.6 340 C595.4 329.1 596.4 321.3 598.6 314.4 C600.8 307.4 604.6 301.9 607.6 298.4 C610.6 294.9 614.3 294 616.6 293.4 C618.9 292.7 620.5 293.5 621.6 294.4 C622.7 295.2 622.9 297.7 623.1 298.4" stroke="#2c2c2c" stroke-width="2.9" fill="none" stroke-linecap="butt" />
<path d="M593.6 417.2 C593.6 411 593.4 392.9 593.6 380 C593.8 367.1 593.8 350.9 594.6 340 C595.4 329.1 596.4 321.3 598.6 314.4 C600.8 307.4 604.6 301.9 607.6 298.4 C610.6 294.9 614.3 294 616.6 293.4 C618.9 292.7 620.5 293.5 621.6 294.4 C622.7 295.2 622.9 297.7 623.1 298.4" stroke="#fff" stroke-width="1.1" fill="none" stroke-linecap="butt" />
<path d="M610.4 419.6 C610.4 413 610.2 393.3 610.4 380 C610.6 366.7 610.6 350.6 611.4 340 C612.2 329.4 613.6 322.8 615.4 316.1 C617.2 309.5 619.9 303.6 622.4 300.1 C624.9 296.6 628.2 295.8 630.4 295.1 C632.6 294.5 634.3 295.3 635.4 296.1 C636.5 297 636.6 299.5 636.9 300.1" stroke="#2c2c2c" stroke-width="2.9" fill="none" stroke-linecap="butt" />
<path d="M610.4 419.6 C610.4 413 610.2 393.3 610.4 380 C610.6 366.7 610.6 350.6 611.4 340 C612.2 329.4 613.6 322.8 615.4 316.1 C617.2 309.5 619.9 303.6 622.4 300.1 C624.9 296.6 628.2 295.8 630.4 295.1 C632.6 294.5 634.3 295.3 635.4 296.1 C636.5 297 636.6 299.5 636.9 300.1" stroke="#fff" stroke-width="1.1" fill="none" stroke-linecap="butt" />
<path d="M613 419.9 C613 413.3 612.8 393.3 613 380 C613.2 366.7 613.2 350.6 614 340 C614.8 329.4 616 323 618 316.4 C620 309.8 623.2 303.9 626 300.4 C628.8 296.9 632.2 296.1 634.5 295.4 C636.8 294.7 638.4 295.6 639.5 296.4 C640.6 297.2 640.8 299.7 641 300.4" stroke="#2c2c2c" stroke-width="2.9" fill="none" stroke-linecap="butt" />
<path d="M613 419.9 C613 413.3 612.8 393.3 613 380 C613.2 366.7 613.2 350.6 614 340 C614.8 329.4 616 323 618 316.4 C620 309.8 623.2 303.9 626 300.4 C628.8 296.9 632.2 296.1 634.5 295.4 C636.8 294.7 638.4 295.6 639.5 296.4 C640.6 297.2 640.8 299.7 641 300.4" stroke="#fff" stroke-width="1.1" fill="none" stroke-linecap="butt" />
<path d="M615.6 420.3 C615.6 413.6 615.4 393.4 615.6 380 C615.8 366.6 615.8 350.6 616.6 340 C617.4 329.4 618.4 323.2 620.6 316.7 C622.8 310.1 626.6 304.2 629.6 300.7 C632.6 297.2 636.3 296.4 638.6 295.7 C640.9 295 642.5 295.9 643.6 296.7 C644.7 297.5 644.9 300 645.1 300.7" stroke="#2c2c2c" stroke-width="2.9" fill="none" stroke-linecap="butt" />
<path d="M615.6 420.3 C615.6 413.6 615.4 393.4 615.6 380 C615.8 366.6 615.8 350.6 616.6 340 C617.4 329.4 618.4 323.2 620.6 316.7 C622.8 310.1 626.6 304.2 629.6 300.7 C632.6 297.2 636.3 296.4 638.6 295.7 C640.9 295 642.5 295.9 643.6 296.7 C644.7 297.5 644.9 300 645.1 300.7" stroke="#fff" stroke-width="1.1" fill="none" stroke-linecap="butt" />
<path d="M635.1 423.1 C635.1 415.9 634.9 393.9 635.1 380 C635.3 366.1 635.3 350.2 636.1 340 C636.9 329.8 638.3 324.9 640.1 318.7 C641.9 312.5 644.6 306.2 647.1 302.7 C649.6 299.2 652.9 298.4 655.1 297.7 C657.3 297.1 659 297.9 660.1 298.7 C661.2 299.6 661.4 302.1 661.6 302.7" stroke="#2c2c2c" stroke-width="2.9" fill="none" stroke-linecap="butt" />
<path d="M635.1 423.1 C635.1 415.9 634.9 393.9 635.1 380 C635.3 366.1 635.3 350.2 636.1 340 C636.9 329.8 638.3 324.9 640.1 318.7 C641.9 312.5 644.6 306.2 647.1 302.7 C649.6 299.2 652.9 298.4 655.1 297.7 C657.3 297.1 659 297.9 660.1 298.7 C661.2 299.6 661.4 302.1 661.6 302.7" stroke="#fff" stroke-width="1.1" fill="none" stroke-linecap="butt" />
<path d="M637.7 423.5 C637.7 416.2 637.5 393.9 637.7 380 C637.9 366.1 637.9 350.2 638.7 340 C639.5 329.8 640.7 325.2 642.7 319 C644.7 312.8 648 306.5 650.7 303 C653.5 299.5 657 298.7 659.2 298 C661.5 297.3 663.1 298.2 664.2 299 C665.3 299.8 665.5 302.3 665.7 303" stroke="#2c2c2c" stroke-width="2.9" fill="none" stroke-linecap="butt" />
<path d="M637.7 423.5 C637.7 416.2 637.5 393.9 637.7 380 C637.9 366.1 637.9 350.2 638.7 340 C639.5 329.8 640.7 325.2 642.7 319 C644.7 312.8 648 306.5 650.7 303 C653.5 299.5 657 298.7 659.2 298 C661.5 297.3 663.1 298.2 664.2 299 C665.3 299.8 665.5 302.3 665.7 303" stroke="#fff" stroke-width="1.1" fill="none" stroke-linecap="butt" />
<path d="M640.3 423.9 C640.3 416.5 640.1 394 640.3 380 C640.5 366 640.5 350.1 641.3 340 C642.1 329.9 643.1 325.4 645.3 319.3 C647.5 313.2 651.3 306.8 654.3 303.3 C657.3 299.8 661 298.9 663.3 298.3 C665.6 297.6 667.2 298.4 668.3 299.3 C669.4 300.1 669.6 302.6 669.8 303.3" stroke="#2c2c2c" stroke-width="2.9" fill="none" stroke-linecap="butt" />
<path d="M640.3 423.9 C640.3 416.5 640.1 394 640.3 380 C640.5 366 640.5 350.1 641.3 340 C642.1 329.9 643.1 325.4 645.3 319.3 C647.5 313.2 651.3 306.8 654.3 303.3 C657.3 299.8 661 298.9 663.3 298.3 C665.6 297.6 667.2 298.4 668.3 299.3 C669.4 300.1 669.6 302.6 669.8 303.3" stroke="#fff" stroke-width="1.1" fill="none" stroke-linecap="butt" />
<path d="M581 284 L690 295.5" stroke="#2c2c2c" stroke-width="5.4" fill="none" stroke-linecap="butt" />
<path d="M581 284 L690 295.5" stroke="#fff" stroke-width="2.6" fill="none" stroke-linecap="butt" />
<path d="M691 296 C688.5 296.7 680.1 297.3 676 300 C671.9 302.7 668.8 306.2 666.5 312 C664.2 317.8 663.3 323.7 662.5 335 C661.7 346.3 661.6 362.5 661.5 380 C661.4 397.5 661.9 430 662 440" stroke="#2c2c2c" stroke-width="5.2" fill="none" stroke-linecap="butt" />
<path d="M691 296 C688.5 296.7 680.1 297.3 676 300 C671.9 302.7 668.8 306.2 666.5 312 C664.2 317.8 663.3 323.7 662.5 335 C661.7 346.3 661.6 362.5 661.5 380 C661.4 397.5 661.9 430 662 440" stroke="#fff" stroke-width="2.4" fill="none" stroke-linecap="butt" />
<path d="M686 295.3 C687.2 295.2 690.5 294.5 693 295 C695.5 295.5 698.9 296.7 701 298.5 C703.1 300.3 704.8 303.2 705.5 306 C706.2 308.8 706.2 312.2 705.5 315 C704.8 317.8 703.2 321 701.5 323 C699.8 325 697.2 326.6 695 327 C692.8 327.4 690.2 326.7 688.5 325.5 C686.8 324.3 685.4 321.8 685 320 C684.6 318.2 685.1 315.8 686 314.5 C686.9 313.2 689.2 312.4 690.5 312.5 C691.8 312.6 693.5 313.9 694 315 C694.5 316.1 694.1 318.2 693.5 319 C692.9 319.8 691 319.4 690.5 319.5" stroke="#2c2c2c" stroke-width="5.2" fill="none" stroke-linecap="round" />
<path d="M686 295.3 C687.2 295.2 690.5 294.5 693 295 C695.5 295.5 698.9 296.7 701 298.5 C703.1 300.3 704.8 303.2 705.5 306 C706.2 308.8 706.2 312.2 705.5 315 C704.8 317.8 703.2 321 701.5 323 C699.8 325 697.2 326.6 695 327 C692.8 327.4 690.2 326.7 688.5 325.5 C686.8 324.3 685.4 321.8 685 320 C684.6 318.2 685.1 315.8 686 314.5 C686.9 313.2 689.2 312.4 690.5 312.5 C691.8 312.6 693.5 313.9 694 315 C694.5 316.1 694.1 318.2 693.5 319 C692.9 319.8 691 319.4 690.5 319.5" stroke="#fff" stroke-width="2.4" fill="none" stroke-linecap="round" />
<circle cx="691.5" cy="317.5" r="2.3" fill="#fff" stroke="#1e1e1e" stroke-width="1"/>
</g>
<use href="#bench" transform="translate(612.6 -42.3) scale(0.4387)" opacity="0.8"/>
<path d="M764 105 L775.4 105 C775.6 108 773.1 108.5 773.1 111.5 C773.1 117 783.9 115.5 783.9 122 L783.9 152 Q783.9 156 778.9 156 L760.5 156 Q755.5 156 755.5 152 L755.5 122 C755.5 115.5 766.3 117 766.3 111.5 C766.3 108.5 763.8 108 764 105 Z" fill="#fff" stroke="#1e1e1e" stroke-width="1.5"/>
<text x="769.7" y="131.6" text-anchor="middle" font-size="8.3" stroke="#1e1e1e" stroke-width="0.3">MAX</text>
<text x="769.7" y="143.6" text-anchor="middle" font-size="15" stroke="#1e1e1e" stroke-width="0.5">150</text>
<text x="769.7" y="153.5" text-anchor="middle" font-size="10" stroke="#1e1e1e" stroke-width="0.3">kg</text>
<path d="M840.5 96 L851.9 96 C852.1 99 849.6 99.5 849.6 102.5 C849.6 108 860.3 106.5 860.3 113 L860.3 142.5 Q860.3 146.5 855.3 146.5 L837.1 146.5 Q832.1 146.5 832.1 142.5 L832.1 113 C832.1 106.5 842.8 108 842.8 102.5 C842.8 99.5 840.3 99 840.5 96 Z" fill="#fff" stroke="#1e1e1e" stroke-width="1.5"/>
<text x="846.2" y="122.6" text-anchor="middle" font-size="8.3" stroke="#1e1e1e" stroke-width="0.3">MAX</text>
<text x="846.2" y="134.6" text-anchor="middle" font-size="15" stroke="#1e1e1e" stroke-width="0.5">150</text>
<text x="846.2" y="144.5" text-anchor="middle" font-size="10" stroke="#1e1e1e" stroke-width="0.3">kg</text>
<text x="0" y="6.8" transform="translate(124.4 412.5) rotate(-90)" text-anchor="middle" font-size="19" fill="#fff" stroke="#fff" stroke-width="5" stroke-linejoin="round" >94 cm</text>
<text x="0" y="6.8" transform="translate(412 352.5) rotate(-89)" text-anchor="middle" font-size="19" fill="#fff" stroke="#fff" stroke-width="5" stroke-linejoin="round" >51 cm</text>
<text x="0" y="6.8" transform="translate(315 394.6) rotate(-90)" text-anchor="middle" font-size="19" fill="#fff" stroke="#fff" stroke-width="5" stroke-linejoin="round" >34 cm</text>
<text x="0" y="6.8" transform="translate(648.5 265) rotate(5.3)" text-anchor="middle" font-size="19" fill="#fff" stroke="#fff" stroke-width="5" stroke-linejoin="round" >45 cm</text>
<text x="0" y="6.8" transform="translate(728 436) rotate(-90)" text-anchor="middle" font-size="19" fill="#fff" stroke="#fff" stroke-width="5" stroke-linejoin="round" >77 cm</text>
<text x="0" y="6.8" transform="translate(691 503) rotate(-90)" text-anchor="middle" font-size="19" fill="#fff" stroke="#fff" stroke-width="5" stroke-linejoin="round" >45 cm</text>
<text x="0" y="6.8" transform="translate(614 435.6) rotate(-5.5)" text-anchor="middle" font-size="19" fill="#fff" stroke="#fff" stroke-width="5" stroke-linejoin="round" >3 cm</text>
<text x="0" y="6.8" transform="translate(265 494) rotate(17.5)" text-anchor="middle" font-size="19" fill="#fff" stroke="#fff" stroke-width="5" stroke-linejoin="round" >40 cm</text>
<text x="0" y="6.8" transform="translate(482 486) rotate(-6.8)" text-anchor="middle" font-size="19" fill="#fff" stroke="#fff" stroke-width="5" stroke-linejoin="round" >100 cm</text>
<text x="0" y="6.8" transform="translate(272.8 615) rotate(-90)" text-anchor="middle" font-size="19" fill="#fff" stroke="#fff" stroke-width="5" stroke-linejoin="round" >15 cm</text>
<text x="0" y="6.8" transform="translate(257 652) rotate(26)" text-anchor="middle" font-size="19" fill="#fff" stroke="#fff" stroke-width="5" stroke-linejoin="round" >38 cm</text>
<text x="0" y="6.8" transform="translate(507 634) rotate(-9.5)" text-anchor="middle" font-size="19" fill="#fff" stroke="#fff" stroke-width="5" stroke-linejoin="round" >100 cm</text>
<text x="0" y="6.8" transform="translate(501 659) rotate(-9.9)" text-anchor="middle" font-size="19" fill="#fff" stroke="#fff" stroke-width="5" stroke-linejoin="round" >130 cm</text>
<path d="M140 225.3 L392 225.3" stroke="#aaa" stroke-width="1.2" fill="none" stroke-dasharray="5 4"/>
<path d="M140 625.5 L212 625.5" stroke="#aaa" stroke-width="1.2" fill="none" stroke-dasharray="5 4"/>
<path d="M272 320.7 L302 320.7" stroke="#aaa" stroke-width="1.2" fill="none" stroke-dasharray="5 4"/>
<path d="M136.8 235.1 L136.8 614.4" stroke="#1e1e1e" stroke-width="3.3"/>
<path d="M136.8 225.5 L142.8 237.5 L130.8 237.5 Z" fill="#1e1e1e"/>
<path d="M136.8 624 L130.8 612 L142.8 612 Z" fill="#1e1e1e"/>
<path d="M393.6 235.6 L405.7 417.7" stroke="#1e1e1e" stroke-width="3.3"/>
<path d="M393 226 L399.8 237.6 L387.8 238.4 Z" fill="#1e1e1e"/>
<path d="M406.3 427.3 L399.5 415.7 L411.5 414.9 Z" fill="#1e1e1e"/>
<path d="M304 331.6 L306 456" stroke="#1e1e1e" stroke-width="3.3"/>
<path d="M303.8 322 L310 333.9 L298 334.1 Z" fill="#1e1e1e"/>
<path d="M306.2 465.6 L300 453.7 L312 453.5 Z" fill="#1e1e1e"/>
<path d="M595.4 272.8 L694.4 282" stroke="#1e1e1e" stroke-width="3.3"/>
<path d="M585.8 271.9 L598.3 267 L597.2 279 Z" fill="#1e1e1e"/>
<path d="M704 282.9 L691.5 287.8 L692.6 275.8 Z" fill="#1e1e1e"/>
<path d="M716.5 302.6 L716.5 590.4" stroke="#1e1e1e" stroke-width="3.3"/>
<path d="M716.5 293 L722.5 305 L710.5 305 Z" fill="#1e1e1e"/>
<path d="M716.5 600 L710.5 588 L722.5 588 Z" fill="#1e1e1e"/>
<path d="M679.5 435.1 L679.5 590.4" stroke="#1e1e1e" stroke-width="3.3"/>
<path d="M679.5 425.5 L685.5 437.5 L673.5 437.5 Z" fill="#1e1e1e"/>
<path d="M679.5 600 L673.5 588 L685.5 588 Z" fill="#1e1e1e"/>
<path d="M606.5 412 L606.5 424.8" stroke="#1e1e1e" stroke-width="2.6"/>
<path d="M606.5 432.8 L601 422.8 L612 422.8 Z" fill="#1e1e1e"/>
<path d="M606.5 465.5 L606.5 453.7" stroke="#1e1e1e" stroke-width="2.6"/>
<path d="M606.5 445.7 L612 455.7 L601 455.7 Z" fill="#1e1e1e"/>
<path d="M232.6 472.4 L289.9 492.2" stroke="#1e1e1e" stroke-width="3.3"/>
<path d="M223.5 469.3 L236.8 467.5 L232.9 478.9 Z" fill="#1e1e1e"/>
<path d="M299 495.3 L285.7 497.1 L289.6 485.7 Z" fill="#1e1e1e"/>
<path d="M317.2 494.2 L649.5 454.6" stroke="#1e1e1e" stroke-width="3.3"/>
<path d="M307.7 495.3 L318.9 487.9 L320.3 499.8 Z" fill="#1e1e1e"/>
<path d="M659 453.5 L647.8 460.9 L646.4 449 Z" fill="#1e1e1e"/>
<path d="M286.5 599.4 L286.5 640.4" stroke="#1e1e1e" stroke-width="3.3"/>
<path d="M286.5 589.8 L292.5 601.8 L280.5 601.8 Z" fill="#1e1e1e"/>
<path d="M286.5 650 L280.5 638 L292.5 638 Z" fill="#1e1e1e"/>
<path d="M233.3 626.9 L288.9 654.2" stroke="#1e1e1e" stroke-width="3.3"/>
<path d="M224.7 622.7 L238.1 622.6 L232.8 633.4 Z" fill="#1e1e1e"/>
<path d="M297.5 658.4 L284.1 658.5 L289.4 647.7 Z" fill="#1e1e1e"/>
<path d="M323 655.7 L649.4 601" stroke="#1e1e1e" stroke-width="3.3"/>
<path d="M313.5 657.3 L324.3 649.4 L326.3 661.2 Z" fill="#1e1e1e"/>
<path d="M658.9 599.4 L648.1 607.3 L646.1 595.5 Z" fill="#1e1e1e"/>
<path d="M252.3 692.7 L697.3 615" stroke="#1e1e1e" stroke-width="3.3"/>
<path d="M242.8 694.4 L253.6 686.4 L255.7 698.2 Z" fill="#1e1e1e"/>
<path d="M706.8 613.3 L696 621.3 L693.9 609.5 Z" fill="#1e1e1e"/>
<text x="0" y="6.8" transform="translate(124.4 412.5) rotate(-90)" text-anchor="middle" font-size="19" stroke="#1e1e1e" stroke-width="1" >94 cm</text>
<text x="0" y="6.8" transform="translate(412 352.5) rotate(-89)" text-anchor="middle" font-size="19" stroke="#1e1e1e" stroke-width="1" >51 cm</text>
<text x="0" y="6.8" transform="translate(315 394.6) rotate(-90)" text-anchor="middle" font-size="19" stroke="#1e1e1e" stroke-width="1" >34 cm</text>
<text x="0" y="6.8" transform="translate(648.5 265) rotate(5.3)" text-anchor="middle" font-size="19" stroke="#1e1e1e" stroke-width="1" >45 cm</text>
<text x="0" y="6.8" transform="translate(728 436) rotate(-90)" text-anchor="middle" font-size="19" stroke="#1e1e1e" stroke-width="1" >77 cm</text>
<text x="0" y="6.8" transform="translate(691 503) rotate(-90)" text-anchor="middle" font-size="19" stroke="#1e1e1e" stroke-width="1" >45 cm</text>
<text x="0" y="6.8" transform="translate(614 435.6) rotate(-5.5)" text-anchor="middle" font-size="19" stroke="#1e1e1e" stroke-width="1" >3 cm</text>
<text x="0" y="6.8" transform="translate(265 494) rotate(17.5)" text-anchor="middle" font-size="19" stroke="#1e1e1e" stroke-width="1" >40 cm</text>
<text x="0" y="6.8" transform="translate(482 486) rotate(-6.8)" text-anchor="middle" font-size="19" stroke="#1e1e1e" stroke-width="1" >100 cm</text>
<text x="0" y="6.8" transform="translate(272.8 615) rotate(-90)" text-anchor="middle" font-size="19" stroke="#1e1e1e" stroke-width="1" >15 cm</text>
<text x="0" y="6.8" transform="translate(257 652) rotate(26)" text-anchor="middle" font-size="19" stroke="#1e1e1e" stroke-width="1" >38 cm</text>
<text x="0" y="6.8" transform="translate(507 634) rotate(-9.5)" text-anchor="middle" font-size="19" stroke="#1e1e1e" stroke-width="1" >100 cm</text>
<text x="0" y="6.8" transform="translate(501 659) rotate(-9.9)" text-anchor="middle" font-size="19" stroke="#1e1e1e" stroke-width="1" >130 cm</text>
<text y="719.5" font-size="21" stroke="#1e1e1e" stroke-width="0.6"><tspan x="832.5">+/-</tspan><tspan x="866">2</tspan><tspan x="883">cm</tspan></text>
</svg></body></html>
